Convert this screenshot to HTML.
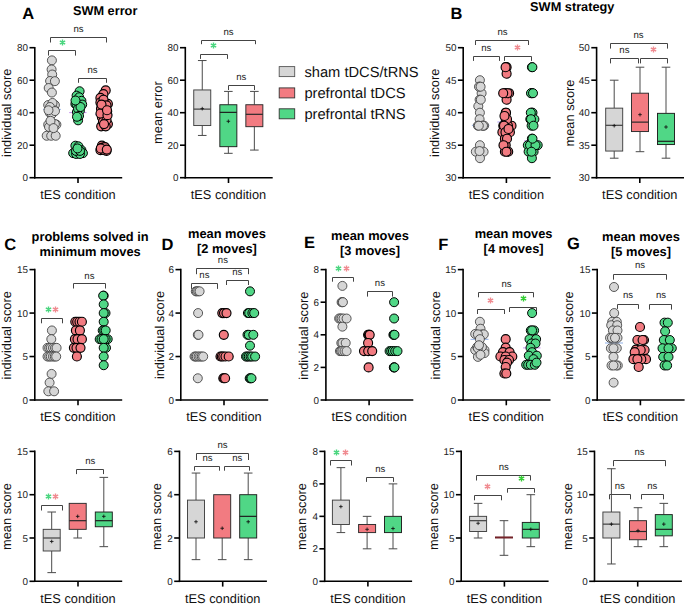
<!DOCTYPE html>
<html><head><meta charset="utf-8"><style>
html,body{margin:0;padding:0;background:#fff;}
body{width:685px;height:604px;overflow:hidden;}
svg{display:block;font-family:"Liberation Sans",sans-serif;text-rendering:geometricPrecision;}
</style></head><body>
<svg width="685" height="604" viewBox="0 0 685 604">
<rect width="685" height="604" fill="#fff"/>
<line x1="34.80" y1="46.90" x2="34.80" y2="178.50" stroke="#000" stroke-width="1.6"/>
<line x1="34.00" y1="177.70" x2="122.20" y2="177.70" stroke="#000" stroke-width="1.6"/>
<line x1="29.50" y1="177.70" x2="34.80" y2="177.70" stroke="#000" stroke-width="1.6"/>
<text x="28.00" y="181.20" font-size="9.9" text-anchor="end" font-weight="normal" fill="#222" >0</text>
<line x1="29.50" y1="145.20" x2="34.80" y2="145.20" stroke="#000" stroke-width="1.6"/>
<text x="28.00" y="148.70" font-size="9.9" text-anchor="end" font-weight="normal" fill="#222" >20</text>
<line x1="29.50" y1="112.70" x2="34.80" y2="112.70" stroke="#000" stroke-width="1.6"/>
<text x="28.00" y="116.20" font-size="9.9" text-anchor="end" font-weight="normal" fill="#222" >40</text>
<line x1="29.50" y1="80.20" x2="34.80" y2="80.20" stroke="#000" stroke-width="1.6"/>
<text x="28.00" y="83.70" font-size="9.9" text-anchor="end" font-weight="normal" fill="#222" >60</text>
<line x1="29.50" y1="47.70" x2="34.80" y2="47.70" stroke="#000" stroke-width="1.6"/>
<text x="28.00" y="51.20" font-size="9.9" text-anchor="end" font-weight="normal" fill="#222" >80</text>
<line x1="78.00" y1="177.70" x2="78.00" y2="183.00" stroke="#000" stroke-width="1.6"/>
<text x="78.00" y="199.10" font-size="12.8" text-anchor="middle" font-weight="normal" fill="#111" >tES condition</text>
<text x="10.60" y="112.80" font-size="12.8" text-anchor="middle" fill="#111" transform="rotate(-90 10.60 112.80)">individual score</text>
<line x1="185.30" y1="46.90" x2="185.30" y2="178.50" stroke="#000" stroke-width="1.6"/>
<line x1="184.50" y1="177.70" x2="272.70" y2="177.70" stroke="#000" stroke-width="1.6"/>
<line x1="180.00" y1="177.70" x2="185.30" y2="177.70" stroke="#000" stroke-width="1.6"/>
<text x="178.50" y="181.20" font-size="9.9" text-anchor="end" font-weight="normal" fill="#222" >0</text>
<line x1="180.00" y1="145.20" x2="185.30" y2="145.20" stroke="#000" stroke-width="1.6"/>
<text x="178.50" y="148.70" font-size="9.9" text-anchor="end" font-weight="normal" fill="#222" >20</text>
<line x1="180.00" y1="112.70" x2="185.30" y2="112.70" stroke="#000" stroke-width="1.6"/>
<text x="178.50" y="116.20" font-size="9.9" text-anchor="end" font-weight="normal" fill="#222" >40</text>
<line x1="180.00" y1="80.20" x2="185.30" y2="80.20" stroke="#000" stroke-width="1.6"/>
<text x="178.50" y="83.70" font-size="9.9" text-anchor="end" font-weight="normal" fill="#222" >60</text>
<line x1="180.00" y1="47.70" x2="185.30" y2="47.70" stroke="#000" stroke-width="1.6"/>
<text x="178.50" y="51.20" font-size="9.9" text-anchor="end" font-weight="normal" fill="#222" >80</text>
<line x1="228.50" y1="177.70" x2="228.50" y2="183.00" stroke="#000" stroke-width="1.6"/>
<text x="228.50" y="199.10" font-size="12.8" text-anchor="middle" font-weight="normal" fill="#111" >tES condition</text>
<text x="161.80" y="112.60" font-size="12.8" text-anchor="middle" fill="#111" transform="rotate(-90 161.80 112.60)">mean error</text>
<line x1="463.20" y1="46.90" x2="463.20" y2="178.50" stroke="#000" stroke-width="1.6"/>
<line x1="462.40" y1="177.70" x2="550.60" y2="177.70" stroke="#000" stroke-width="1.6"/>
<line x1="457.90" y1="177.70" x2="463.20" y2="177.70" stroke="#000" stroke-width="1.6"/>
<text x="456.40" y="181.20" font-size="9.9" text-anchor="end" font-weight="normal" fill="#222" >30</text>
<line x1="457.90" y1="145.20" x2="463.20" y2="145.20" stroke="#000" stroke-width="1.6"/>
<text x="456.40" y="148.70" font-size="9.9" text-anchor="end" font-weight="normal" fill="#222" >35</text>
<line x1="457.90" y1="112.70" x2="463.20" y2="112.70" stroke="#000" stroke-width="1.6"/>
<text x="456.40" y="116.20" font-size="9.9" text-anchor="end" font-weight="normal" fill="#222" >40</text>
<line x1="457.90" y1="80.20" x2="463.20" y2="80.20" stroke="#000" stroke-width="1.6"/>
<text x="456.40" y="83.70" font-size="9.9" text-anchor="end" font-weight="normal" fill="#222" >45</text>
<line x1="457.90" y1="47.70" x2="463.20" y2="47.70" stroke="#000" stroke-width="1.6"/>
<text x="456.40" y="51.20" font-size="9.9" text-anchor="end" font-weight="normal" fill="#222" >50</text>
<line x1="506.40" y1="177.70" x2="506.40" y2="183.00" stroke="#000" stroke-width="1.6"/>
<text x="506.40" y="199.10" font-size="12.8" text-anchor="middle" font-weight="normal" fill="#111" >tES condition</text>
<text x="439.00" y="112.80" font-size="12.8" text-anchor="middle" fill="#111" transform="rotate(-90 439.00 112.80)">individual score</text>
<line x1="596.60" y1="46.90" x2="596.60" y2="178.50" stroke="#000" stroke-width="1.6"/>
<line x1="595.80" y1="177.70" x2="684.00" y2="177.70" stroke="#000" stroke-width="1.6"/>
<line x1="591.30" y1="177.70" x2="596.60" y2="177.70" stroke="#000" stroke-width="1.6"/>
<text x="589.80" y="181.20" font-size="9.9" text-anchor="end" font-weight="normal" fill="#222" >30</text>
<line x1="591.30" y1="145.20" x2="596.60" y2="145.20" stroke="#000" stroke-width="1.6"/>
<text x="589.80" y="148.70" font-size="9.9" text-anchor="end" font-weight="normal" fill="#222" >35</text>
<line x1="591.30" y1="112.70" x2="596.60" y2="112.70" stroke="#000" stroke-width="1.6"/>
<text x="589.80" y="116.20" font-size="9.9" text-anchor="end" font-weight="normal" fill="#222" >40</text>
<line x1="591.30" y1="80.20" x2="596.60" y2="80.20" stroke="#000" stroke-width="1.6"/>
<text x="589.80" y="83.70" font-size="9.9" text-anchor="end" font-weight="normal" fill="#222" >45</text>
<line x1="591.30" y1="47.70" x2="596.60" y2="47.70" stroke="#000" stroke-width="1.6"/>
<text x="589.80" y="51.20" font-size="9.9" text-anchor="end" font-weight="normal" fill="#222" >50</text>
<line x1="639.80" y1="177.70" x2="639.80" y2="183.00" stroke="#000" stroke-width="1.6"/>
<text x="639.80" y="199.10" font-size="12.8" text-anchor="middle" font-weight="normal" fill="#111" >tES condition</text>
<text x="574.20" y="113.00" font-size="12.8" text-anchor="middle" fill="#111" transform="rotate(-90 574.20 113.00)">mean score</text>
<line x1="34.80" y1="268.80" x2="34.80" y2="400.80" stroke="#000" stroke-width="1.6"/>
<line x1="34.00" y1="400.00" x2="122.20" y2="400.00" stroke="#000" stroke-width="1.6"/>
<line x1="29.50" y1="400.00" x2="34.80" y2="400.00" stroke="#000" stroke-width="1.6"/>
<text x="28.00" y="403.50" font-size="9.9" text-anchor="end" font-weight="normal" fill="#222" >0</text>
<line x1="29.50" y1="356.53" x2="34.80" y2="356.53" stroke="#000" stroke-width="1.6"/>
<text x="28.00" y="360.03" font-size="9.9" text-anchor="end" font-weight="normal" fill="#222" >5</text>
<line x1="29.50" y1="313.07" x2="34.80" y2="313.07" stroke="#000" stroke-width="1.6"/>
<text x="28.00" y="316.57" font-size="9.9" text-anchor="end" font-weight="normal" fill="#222" >10</text>
<line x1="29.50" y1="269.60" x2="34.80" y2="269.60" stroke="#000" stroke-width="1.6"/>
<text x="28.00" y="273.10" font-size="9.9" text-anchor="end" font-weight="normal" fill="#222" >15</text>
<line x1="78.00" y1="400.00" x2="78.00" y2="405.30" stroke="#000" stroke-width="1.6"/>
<text x="78.00" y="421.20" font-size="12.8" text-anchor="middle" font-weight="normal" fill="#111" >tES condition</text>
<text x="11.30" y="335.30" font-size="12.8" text-anchor="middle" fill="#111" transform="rotate(-90 11.30 335.30)">individual score</text>
<line x1="180.80" y1="268.80" x2="180.80" y2="400.80" stroke="#000" stroke-width="1.6"/>
<line x1="180.00" y1="400.00" x2="268.20" y2="400.00" stroke="#000" stroke-width="1.6"/>
<line x1="175.50" y1="400.00" x2="180.80" y2="400.00" stroke="#000" stroke-width="1.6"/>
<text x="174.00" y="403.50" font-size="9.9" text-anchor="end" font-weight="normal" fill="#222" >0</text>
<line x1="175.50" y1="356.53" x2="180.80" y2="356.53" stroke="#000" stroke-width="1.6"/>
<text x="174.00" y="360.03" font-size="9.9" text-anchor="end" font-weight="normal" fill="#222" >2</text>
<line x1="175.50" y1="313.07" x2="180.80" y2="313.07" stroke="#000" stroke-width="1.6"/>
<text x="174.00" y="316.57" font-size="9.9" text-anchor="end" font-weight="normal" fill="#222" >4</text>
<line x1="175.50" y1="269.60" x2="180.80" y2="269.60" stroke="#000" stroke-width="1.6"/>
<text x="174.00" y="273.10" font-size="9.9" text-anchor="end" font-weight="normal" fill="#222" >6</text>
<line x1="224.00" y1="400.00" x2="224.00" y2="405.30" stroke="#000" stroke-width="1.6"/>
<text x="224.00" y="421.20" font-size="12.8" text-anchor="middle" font-weight="normal" fill="#111" >tES condition</text>
<text x="163.80" y="335.00" font-size="12.8" text-anchor="middle" fill="#111" transform="rotate(-90 163.80 335.00)">individual score</text>
<line x1="325.90" y1="268.80" x2="325.90" y2="400.80" stroke="#000" stroke-width="1.6"/>
<line x1="325.10" y1="400.00" x2="413.30" y2="400.00" stroke="#000" stroke-width="1.6"/>
<line x1="320.60" y1="400.00" x2="325.90" y2="400.00" stroke="#000" stroke-width="1.6"/>
<text x="319.10" y="403.50" font-size="9.9" text-anchor="end" font-weight="normal" fill="#222" >0</text>
<line x1="320.60" y1="367.40" x2="325.90" y2="367.40" stroke="#000" stroke-width="1.6"/>
<text x="319.10" y="370.90" font-size="9.9" text-anchor="end" font-weight="normal" fill="#222" >2</text>
<line x1="320.60" y1="334.80" x2="325.90" y2="334.80" stroke="#000" stroke-width="1.6"/>
<text x="319.10" y="338.30" font-size="9.9" text-anchor="end" font-weight="normal" fill="#222" >4</text>
<line x1="320.60" y1="302.20" x2="325.90" y2="302.20" stroke="#000" stroke-width="1.6"/>
<text x="319.10" y="305.70" font-size="9.9" text-anchor="end" font-weight="normal" fill="#222" >6</text>
<line x1="320.60" y1="269.60" x2="325.90" y2="269.60" stroke="#000" stroke-width="1.6"/>
<text x="319.10" y="273.10" font-size="9.9" text-anchor="end" font-weight="normal" fill="#222" >8</text>
<line x1="369.10" y1="400.00" x2="369.10" y2="405.30" stroke="#000" stroke-width="1.6"/>
<text x="369.10" y="421.20" font-size="12.8" text-anchor="middle" font-weight="normal" fill="#111" >tES condition</text>
<text x="307.60" y="335.60" font-size="12.8" text-anchor="middle" fill="#111" transform="rotate(-90 307.60 335.60)">individual score</text>
<line x1="463.10" y1="268.80" x2="463.10" y2="400.80" stroke="#000" stroke-width="1.6"/>
<line x1="462.30" y1="400.00" x2="550.50" y2="400.00" stroke="#000" stroke-width="1.6"/>
<line x1="457.80" y1="400.00" x2="463.10" y2="400.00" stroke="#000" stroke-width="1.6"/>
<text x="456.30" y="403.50" font-size="9.9" text-anchor="end" font-weight="normal" fill="#222" >0</text>
<line x1="457.80" y1="356.53" x2="463.10" y2="356.53" stroke="#000" stroke-width="1.6"/>
<text x="456.30" y="360.03" font-size="9.9" text-anchor="end" font-weight="normal" fill="#222" >5</text>
<line x1="457.80" y1="313.07" x2="463.10" y2="313.07" stroke="#000" stroke-width="1.6"/>
<text x="456.30" y="316.57" font-size="9.9" text-anchor="end" font-weight="normal" fill="#222" >10</text>
<line x1="457.80" y1="269.60" x2="463.10" y2="269.60" stroke="#000" stroke-width="1.6"/>
<text x="456.30" y="273.10" font-size="9.9" text-anchor="end" font-weight="normal" fill="#222" >15</text>
<line x1="506.30" y1="400.00" x2="506.30" y2="405.30" stroke="#000" stroke-width="1.6"/>
<text x="506.30" y="421.20" font-size="12.8" text-anchor="middle" font-weight="normal" fill="#111" >tES condition</text>
<text x="440.10" y="335.30" font-size="12.8" text-anchor="middle" fill="#111" transform="rotate(-90 440.10 335.30)">individual score</text>
<line x1="597.20" y1="268.80" x2="597.20" y2="400.80" stroke="#000" stroke-width="1.6"/>
<line x1="596.40" y1="400.00" x2="684.60" y2="400.00" stroke="#000" stroke-width="1.6"/>
<line x1="591.90" y1="400.00" x2="597.20" y2="400.00" stroke="#000" stroke-width="1.6"/>
<text x="590.40" y="403.50" font-size="9.9" text-anchor="end" font-weight="normal" fill="#222" >0</text>
<line x1="591.90" y1="356.53" x2="597.20" y2="356.53" stroke="#000" stroke-width="1.6"/>
<text x="590.40" y="360.03" font-size="9.9" text-anchor="end" font-weight="normal" fill="#222" >5</text>
<line x1="591.90" y1="313.07" x2="597.20" y2="313.07" stroke="#000" stroke-width="1.6"/>
<text x="590.40" y="316.57" font-size="9.9" text-anchor="end" font-weight="normal" fill="#222" >10</text>
<line x1="591.90" y1="269.60" x2="597.20" y2="269.60" stroke="#000" stroke-width="1.6"/>
<text x="590.40" y="273.10" font-size="9.9" text-anchor="end" font-weight="normal" fill="#222" >15</text>
<line x1="640.40" y1="400.00" x2="640.40" y2="405.30" stroke="#000" stroke-width="1.6"/>
<text x="640.40" y="421.20" font-size="12.8" text-anchor="middle" font-weight="normal" fill="#111" >tES condition</text>
<text x="573.00" y="335.50" font-size="12.8" text-anchor="middle" fill="#111" transform="rotate(-90 573.00 335.50)">individual score</text>
<line x1="34.80" y1="450.60" x2="34.80" y2="582.10" stroke="#000" stroke-width="1.6"/>
<line x1="34.00" y1="581.30" x2="122.20" y2="581.30" stroke="#000" stroke-width="1.6"/>
<line x1="29.50" y1="581.30" x2="34.80" y2="581.30" stroke="#000" stroke-width="1.6"/>
<text x="28.00" y="584.80" font-size="9.9" text-anchor="end" font-weight="normal" fill="#222" >0</text>
<line x1="29.50" y1="538.00" x2="34.80" y2="538.00" stroke="#000" stroke-width="1.6"/>
<text x="28.00" y="541.50" font-size="9.9" text-anchor="end" font-weight="normal" fill="#222" >5</text>
<line x1="29.50" y1="494.70" x2="34.80" y2="494.70" stroke="#000" stroke-width="1.6"/>
<text x="28.00" y="498.20" font-size="9.9" text-anchor="end" font-weight="normal" fill="#222" >10</text>
<line x1="29.50" y1="451.40" x2="34.80" y2="451.40" stroke="#000" stroke-width="1.6"/>
<text x="28.00" y="454.90" font-size="9.9" text-anchor="end" font-weight="normal" fill="#222" >15</text>
<line x1="78.00" y1="581.30" x2="78.00" y2="586.60" stroke="#000" stroke-width="1.6"/>
<text x="78.00" y="602.80" font-size="12.8" text-anchor="middle" font-weight="normal" fill="#111" >tES condition</text>
<text x="11.30" y="516.50" font-size="12.8" text-anchor="middle" fill="#111" transform="rotate(-90 11.30 516.50)">mean score</text>
<line x1="179.50" y1="450.60" x2="179.50" y2="582.10" stroke="#000" stroke-width="1.6"/>
<line x1="178.70" y1="581.30" x2="266.90" y2="581.30" stroke="#000" stroke-width="1.6"/>
<line x1="174.20" y1="581.30" x2="179.50" y2="581.30" stroke="#000" stroke-width="1.6"/>
<text x="172.70" y="584.80" font-size="9.9" text-anchor="end" font-weight="normal" fill="#222" >0</text>
<line x1="174.20" y1="538.00" x2="179.50" y2="538.00" stroke="#000" stroke-width="1.6"/>
<text x="172.70" y="541.50" font-size="9.9" text-anchor="end" font-weight="normal" fill="#222" >2</text>
<line x1="174.20" y1="494.70" x2="179.50" y2="494.70" stroke="#000" stroke-width="1.6"/>
<text x="172.70" y="498.20" font-size="9.9" text-anchor="end" font-weight="normal" fill="#222" >4</text>
<line x1="174.20" y1="451.40" x2="179.50" y2="451.40" stroke="#000" stroke-width="1.6"/>
<text x="172.70" y="454.90" font-size="9.9" text-anchor="end" font-weight="normal" fill="#222" >6</text>
<line x1="222.70" y1="581.30" x2="222.70" y2="586.60" stroke="#000" stroke-width="1.6"/>
<text x="222.70" y="602.80" font-size="12.8" text-anchor="middle" font-weight="normal" fill="#111" >tES condition</text>
<text x="161.20" y="516.50" font-size="12.8" text-anchor="middle" fill="#111" transform="rotate(-90 161.20 516.50)">mean score</text>
<line x1="324.70" y1="450.60" x2="324.70" y2="582.10" stroke="#000" stroke-width="1.6"/>
<line x1="323.90" y1="581.30" x2="412.10" y2="581.30" stroke="#000" stroke-width="1.6"/>
<line x1="319.40" y1="581.30" x2="324.70" y2="581.30" stroke="#000" stroke-width="1.6"/>
<text x="317.90" y="584.80" font-size="9.9" text-anchor="end" font-weight="normal" fill="#222" >0</text>
<line x1="319.40" y1="548.82" x2="324.70" y2="548.82" stroke="#000" stroke-width="1.6"/>
<text x="317.90" y="552.32" font-size="9.9" text-anchor="end" font-weight="normal" fill="#222" >2</text>
<line x1="319.40" y1="516.35" x2="324.70" y2="516.35" stroke="#000" stroke-width="1.6"/>
<text x="317.90" y="519.85" font-size="9.9" text-anchor="end" font-weight="normal" fill="#222" >4</text>
<line x1="319.40" y1="483.88" x2="324.70" y2="483.88" stroke="#000" stroke-width="1.6"/>
<text x="317.90" y="487.38" font-size="9.9" text-anchor="end" font-weight="normal" fill="#222" >6</text>
<line x1="319.40" y1="451.40" x2="324.70" y2="451.40" stroke="#000" stroke-width="1.6"/>
<text x="317.90" y="454.90" font-size="9.9" text-anchor="end" font-weight="normal" fill="#222" >8</text>
<line x1="367.90" y1="581.30" x2="367.90" y2="586.60" stroke="#000" stroke-width="1.6"/>
<text x="367.90" y="602.80" font-size="12.8" text-anchor="middle" font-weight="normal" fill="#111" >tES condition</text>
<text x="306.20" y="516.50" font-size="12.8" text-anchor="middle" fill="#111" transform="rotate(-90 306.20 516.50)">mean score</text>
<line x1="461.20" y1="450.60" x2="461.20" y2="582.10" stroke="#000" stroke-width="1.6"/>
<line x1="460.40" y1="581.30" x2="548.60" y2="581.30" stroke="#000" stroke-width="1.6"/>
<line x1="455.90" y1="581.30" x2="461.20" y2="581.30" stroke="#000" stroke-width="1.6"/>
<text x="454.40" y="584.80" font-size="9.9" text-anchor="end" font-weight="normal" fill="#222" >0</text>
<line x1="455.90" y1="538.00" x2="461.20" y2="538.00" stroke="#000" stroke-width="1.6"/>
<text x="454.40" y="541.50" font-size="9.9" text-anchor="end" font-weight="normal" fill="#222" >5</text>
<line x1="455.90" y1="494.70" x2="461.20" y2="494.70" stroke="#000" stroke-width="1.6"/>
<text x="454.40" y="498.20" font-size="9.9" text-anchor="end" font-weight="normal" fill="#222" >10</text>
<line x1="455.90" y1="451.40" x2="461.20" y2="451.40" stroke="#000" stroke-width="1.6"/>
<text x="454.40" y="454.90" font-size="9.9" text-anchor="end" font-weight="normal" fill="#222" >15</text>
<line x1="504.40" y1="581.30" x2="504.40" y2="586.60" stroke="#000" stroke-width="1.6"/>
<text x="504.40" y="602.80" font-size="12.8" text-anchor="middle" font-weight="normal" fill="#111" >tES condition</text>
<text x="437.50" y="516.50" font-size="12.8" text-anchor="middle" fill="#111" transform="rotate(-90 437.50 516.50)">mean score</text>
<line x1="594.50" y1="450.60" x2="594.50" y2="582.10" stroke="#000" stroke-width="1.6"/>
<line x1="593.70" y1="581.30" x2="681.90" y2="581.30" stroke="#000" stroke-width="1.6"/>
<line x1="589.20" y1="581.30" x2="594.50" y2="581.30" stroke="#000" stroke-width="1.6"/>
<text x="587.70" y="584.80" font-size="9.9" text-anchor="end" font-weight="normal" fill="#222" >0</text>
<line x1="589.20" y1="538.00" x2="594.50" y2="538.00" stroke="#000" stroke-width="1.6"/>
<text x="587.70" y="541.50" font-size="9.9" text-anchor="end" font-weight="normal" fill="#222" >5</text>
<line x1="589.20" y1="494.70" x2="594.50" y2="494.70" stroke="#000" stroke-width="1.6"/>
<text x="587.70" y="498.20" font-size="9.9" text-anchor="end" font-weight="normal" fill="#222" >10</text>
<line x1="589.20" y1="451.40" x2="594.50" y2="451.40" stroke="#000" stroke-width="1.6"/>
<text x="587.70" y="454.90" font-size="9.9" text-anchor="end" font-weight="normal" fill="#222" >15</text>
<line x1="637.70" y1="581.30" x2="637.70" y2="586.60" stroke="#000" stroke-width="1.6"/>
<text x="637.70" y="602.80" font-size="12.8" text-anchor="middle" font-weight="normal" fill="#111" >tES condition</text>
<text x="572.00" y="516.50" font-size="12.8" text-anchor="middle" fill="#111" transform="rotate(-90 572.00 516.50)">mean score</text>
<text x="22.30" y="19.40" font-size="16.5" text-anchor="start" font-weight="bold" fill="#000" >A</text>
<text x="450.60" y="19.00" font-size="16.5" text-anchor="start" font-weight="bold" fill="#000" >B</text>
<text x="4.20" y="250.00" font-size="16.5" text-anchor="start" font-weight="bold" fill="#000" >C</text>
<text x="161.50" y="249.60" font-size="16.5" text-anchor="start" font-weight="bold" fill="#000" >D</text>
<text x="304.00" y="247.60" font-size="16.5" text-anchor="start" font-weight="bold" fill="#000" >E</text>
<text x="438.20" y="249.60" font-size="16.5" text-anchor="start" font-weight="bold" fill="#000" >F</text>
<text x="567.00" y="248.60" font-size="16.5" text-anchor="start" font-weight="bold" fill="#000" >G</text>
<text x="72.90" y="14.70" font-size="12.75" text-anchor="start" font-weight="bold" fill="#000" >SWM error</text>
<text x="530.10" y="10.80" font-size="12.75" text-anchor="start" font-weight="bold" fill="#000" >SWM strategy</text>
<text x="90.10" y="241.30" font-size="12.85" text-anchor="middle" font-weight="bold" fill="#000" >problems solved in</text>
<text x="90.10" y="255.60" font-size="12.85" text-anchor="middle" font-weight="bold" fill="#000" >minimum moves</text>
<text x="226.90" y="238.40" font-size="12.85" text-anchor="middle" font-weight="bold" fill="#000" >mean moves</text>
<text x="226.90" y="252.70" font-size="12.85" text-anchor="middle" font-weight="bold" fill="#000" >[2 moves]</text>
<text x="370.00" y="240.40" font-size="12.85" text-anchor="middle" font-weight="bold" fill="#000" >mean moves</text>
<text x="370.00" y="255.20" font-size="12.85" text-anchor="middle" font-weight="bold" fill="#000" >[3 moves]</text>
<text x="513.60" y="238.40" font-size="12.85" text-anchor="middle" font-weight="bold" fill="#000" >mean moves</text>
<text x="513.60" y="253.10" font-size="12.85" text-anchor="middle" font-weight="bold" fill="#000" >[4 moves]</text>
<text x="641.00" y="241.20" font-size="12.85" text-anchor="middle" font-weight="bold" fill="#000" >mean moves</text>
<text x="641.00" y="256.40" font-size="12.85" text-anchor="middle" font-weight="bold" fill="#000" >[5 moves]</text>
<rect x="279.2" y="66.60" width="15.5" height="10.0" fill="#d6d6d6" stroke="#555" stroke-width="0.9"/>
<text x="304.40" y="76.60" font-size="14.7" text-anchor="start" font-weight="normal" fill="#111" >sham tDCS/tRNS</text>
<rect x="279.2" y="87.90" width="15.5" height="10.0" fill="#f27b81" stroke="#333" stroke-width="0.9"/>
<text x="304.40" y="97.90" font-size="14.7" text-anchor="start" font-weight="normal" fill="#111" >prefrontal tDCS</text>
<rect x="279.2" y="108.80" width="15.5" height="10.0" fill="#50d786" stroke="#333" stroke-width="0.9"/>
<text x="304.40" y="118.80" font-size="14.7" text-anchor="start" font-weight="normal" fill="#111" >prefrontal tRNS</text>
<line x1="43.20" y1="109.40" x2="60.80" y2="109.40" stroke="#8fb0e8" stroke-width="1.0"/>
<line x1="69.20" y1="112.60" x2="86.50" y2="112.60" stroke="#c890f0" stroke-width="1.0"/>
<line x1="95.20" y1="114.60" x2="112.40" y2="114.60" stroke="#a99cf0" stroke-width="1.0"/>
<circle cx="51.90" cy="60.37" r="4.5" fill="#d6d6d6" stroke="#3c3c3c" stroke-width="0.85"/>
<circle cx="51.60" cy="69.47" r="4.5" fill="#d6d6d6" stroke="#3c3c3c" stroke-width="0.85"/>
<circle cx="52.20" cy="74.51" r="4.5" fill="#d6d6d6" stroke="#3c3c3c" stroke-width="0.85"/>
<circle cx="50.10" cy="81.01" r="4.5" fill="#d6d6d6" stroke="#3c3c3c" stroke-width="0.85"/>
<circle cx="54.90" cy="81.17" r="4.5" fill="#d6d6d6" stroke="#3c3c3c" stroke-width="0.85"/>
<circle cx="48.70" cy="88.00" r="4.5" fill="#d6d6d6" stroke="#3c3c3c" stroke-width="0.85"/>
<circle cx="51.90" cy="92.55" r="4.5" fill="#d6d6d6" stroke="#3c3c3c" stroke-width="0.85"/>
<circle cx="48.20" cy="105.06" r="4.5" fill="#d6d6d6" stroke="#3c3c3c" stroke-width="0.85"/>
<circle cx="54.90" cy="105.06" r="4.5" fill="#d6d6d6" stroke="#3c3c3c" stroke-width="0.85"/>
<circle cx="49.70" cy="112.70" r="4.5" fill="#d6d6d6" stroke="#3c3c3c" stroke-width="0.85"/>
<circle cx="51.90" cy="114.00" r="4.5" fill="#d6d6d6" stroke="#3c3c3c" stroke-width="0.85"/>
<circle cx="52.70" cy="108.15" r="4.5" fill="#d6d6d6" stroke="#3c3c3c" stroke-width="0.85"/>
<circle cx="48.20" cy="124.56" r="4.5" fill="#d6d6d6" stroke="#3c3c3c" stroke-width="0.85"/>
<circle cx="56.40" cy="124.56" r="4.5" fill="#d6d6d6" stroke="#3c3c3c" stroke-width="0.85"/>
<circle cx="54.90" cy="124.07" r="4.5" fill="#d6d6d6" stroke="#3c3c3c" stroke-width="0.85"/>
<circle cx="49.00" cy="127.00" r="4.5" fill="#d6d6d6" stroke="#3c3c3c" stroke-width="0.85"/>
<circle cx="46.70" cy="135.77" r="4.5" fill="#d6d6d6" stroke="#3c3c3c" stroke-width="0.85"/>
<circle cx="51.20" cy="135.77" r="4.5" fill="#d6d6d6" stroke="#3c3c3c" stroke-width="0.85"/>
<circle cx="55.70" cy="135.77" r="4.5" fill="#d6d6d6" stroke="#3c3c3c" stroke-width="0.85"/>
<circle cx="52.50" cy="102.95" r="4.5" fill="#d6d6d6" stroke="#3c3c3c" stroke-width="0.85"/>
<circle cx="50.00" cy="107.01" r="4.5" fill="#d6d6d6" stroke="#3c3c3c" stroke-width="0.85"/>
<circle cx="55.00" cy="111.07" r="4.5" fill="#d6d6d6" stroke="#3c3c3c" stroke-width="0.85"/>
<circle cx="48.50" cy="110.26" r="4.5" fill="#d6d6d6" stroke="#3c3c3c" stroke-width="0.85"/>
<circle cx="50.50" cy="120.82" r="4.5" fill="#d6d6d6" stroke="#3c3c3c" stroke-width="0.85"/>
<circle cx="53.50" cy="128.14" r="4.5" fill="#d6d6d6" stroke="#3c3c3c" stroke-width="0.85"/>
<circle cx="79.60" cy="91.25" r="4.5" fill="#50d786" stroke="#000" stroke-width="1.0"/>
<circle cx="76.60" cy="95.64" r="4.5" fill="#50d786" stroke="#000" stroke-width="1.0"/>
<circle cx="79.20" cy="97.26" r="4.5" fill="#50d786" stroke="#000" stroke-width="1.0"/>
<circle cx="81.40" cy="100.84" r="4.5" fill="#50d786" stroke="#000" stroke-width="1.0"/>
<circle cx="75.40" cy="103.92" r="4.5" fill="#50d786" stroke="#000" stroke-width="1.0"/>
<circle cx="82.20" cy="104.57" r="4.5" fill="#50d786" stroke="#000" stroke-width="1.0"/>
<circle cx="79.90" cy="110.59" r="4.5" fill="#50d786" stroke="#000" stroke-width="1.0"/>
<circle cx="76.90" cy="112.05" r="4.5" fill="#50d786" stroke="#000" stroke-width="1.0"/>
<circle cx="76.60" cy="104.57" r="4.5" fill="#50d786" stroke="#000" stroke-width="1.0"/>
<circle cx="78.10" cy="120.34" r="4.5" fill="#50d786" stroke="#000" stroke-width="1.0"/>
<circle cx="75.40" cy="145.69" r="4.5" fill="#50d786" stroke="#000" stroke-width="1.0"/>
<circle cx="78.40" cy="146.34" r="4.5" fill="#50d786" stroke="#000" stroke-width="1.0"/>
<circle cx="81.40" cy="150.07" r="4.5" fill="#50d786" stroke="#000" stroke-width="1.0"/>
<circle cx="73.20" cy="153.16" r="4.5" fill="#50d786" stroke="#000" stroke-width="1.0"/>
<circle cx="82.90" cy="153.16" r="4.5" fill="#50d786" stroke="#000" stroke-width="1.0"/>
<circle cx="76.20" cy="153.97" r="4.5" fill="#50d786" stroke="#000" stroke-width="1.0"/>
<circle cx="79.90" cy="153.97" r="4.5" fill="#50d786" stroke="#000" stroke-width="1.0"/>
<circle cx="78.00" cy="108.64" r="4.5" fill="#50d786" stroke="#000" stroke-width="1.0"/>
<circle cx="80.50" cy="107.01" r="4.5" fill="#50d786" stroke="#000" stroke-width="1.0"/>
<circle cx="75.50" cy="100.51" r="4.5" fill="#50d786" stroke="#000" stroke-width="1.0"/>
<circle cx="79.00" cy="115.95" r="4.5" fill="#50d786" stroke="#000" stroke-width="1.0"/>
<circle cx="77.00" cy="116.76" r="4.5" fill="#50d786" stroke="#000" stroke-width="1.0"/>
<circle cx="76.00" cy="150.89" r="4.5" fill="#50d786" stroke="#000" stroke-width="1.0"/>
<circle cx="80.00" cy="150.89" r="4.5" fill="#50d786" stroke="#000" stroke-width="1.0"/>
<circle cx="77.50" cy="148.45" r="4.5" fill="#50d786" stroke="#000" stroke-width="1.0"/>
<circle cx="105.70" cy="90.44" r="4.5" fill="#f27b81" stroke="#000" stroke-width="1.15"/>
<circle cx="103.40" cy="94.17" r="4.5" fill="#f27b81" stroke="#000" stroke-width="1.15"/>
<circle cx="100.40" cy="97.91" r="4.5" fill="#f27b81" stroke="#000" stroke-width="1.15"/>
<circle cx="100.40" cy="102.46" r="4.5" fill="#f27b81" stroke="#000" stroke-width="1.15"/>
<circle cx="107.90" cy="103.92" r="4.5" fill="#f27b81" stroke="#000" stroke-width="1.15"/>
<circle cx="102.70" cy="103.92" r="4.5" fill="#f27b81" stroke="#000" stroke-width="1.15"/>
<circle cx="101.60" cy="110.59" r="4.5" fill="#f27b81" stroke="#000" stroke-width="1.15"/>
<circle cx="107.20" cy="111.24" r="4.5" fill="#f27b81" stroke="#000" stroke-width="1.15"/>
<circle cx="104.20" cy="115.79" r="4.5" fill="#f27b81" stroke="#000" stroke-width="1.15"/>
<circle cx="101.90" cy="117.25" r="4.5" fill="#f27b81" stroke="#000" stroke-width="1.15"/>
<circle cx="107.90" cy="124.07" r="4.5" fill="#f27b81" stroke="#000" stroke-width="1.15"/>
<circle cx="101.20" cy="126.35" r="4.5" fill="#f27b81" stroke="#000" stroke-width="1.15"/>
<circle cx="105.70" cy="126.35" r="4.5" fill="#f27b81" stroke="#000" stroke-width="1.15"/>
<circle cx="101.90" cy="145.69" r="4.5" fill="#f27b81" stroke="#000" stroke-width="1.15"/>
<circle cx="100.40" cy="150.07" r="4.5" fill="#f27b81" stroke="#000" stroke-width="1.15"/>
<circle cx="104.20" cy="150.07" r="4.5" fill="#f27b81" stroke="#000" stroke-width="1.15"/>
<circle cx="105.70" cy="148.77" r="4.5" fill="#f27b81" stroke="#000" stroke-width="1.15"/>
<circle cx="103.00" cy="106.20" r="4.5" fill="#f27b81" stroke="#000" stroke-width="1.15"/>
<circle cx="106.00" cy="107.82" r="4.5" fill="#f27b81" stroke="#000" stroke-width="1.15"/>
<circle cx="101.00" cy="108.64" r="4.5" fill="#f27b81" stroke="#000" stroke-width="1.15"/>
<circle cx="104.50" cy="119.20" r="4.5" fill="#f27b81" stroke="#000" stroke-width="1.15"/>
<circle cx="103.00" cy="121.64" r="4.5" fill="#f27b81" stroke="#000" stroke-width="1.15"/>
<circle cx="106.50" cy="120.01" r="4.5" fill="#f27b81" stroke="#000" stroke-width="1.15"/>
<circle cx="100.50" cy="113.51" r="4.5" fill="#f27b81" stroke="#000" stroke-width="1.15"/>
<circle cx="107.50" cy="115.14" r="4.5" fill="#f27b81" stroke="#000" stroke-width="1.15"/>
<circle cx="103.50" cy="99.70" r="4.5" fill="#f27b81" stroke="#000" stroke-width="1.15"/>
<circle cx="104.00" cy="124.07" r="4.5" fill="#f27b81" stroke="#000" stroke-width="1.15"/>
<circle cx="102.50" cy="147.64" r="4.5" fill="#f27b81" stroke="#000" stroke-width="1.15"/>
<circle cx="106.50" cy="150.89" r="4.5" fill="#f27b81" stroke="#000" stroke-width="1.15"/>
<circle cx="101.50" cy="148.12" r="4.5" fill="#f27b81" stroke="#000" stroke-width="1.15"/>
<circle cx="103.50" cy="149.75" r="4.5" fill="#f27b81" stroke="#000" stroke-width="1.15"/>
<circle cx="105.00" cy="147.15" r="4.5" fill="#f27b81" stroke="#000" stroke-width="1.15"/>
<circle cx="100.80" cy="148.45" r="4.5" fill="#f27b81" stroke="#000" stroke-width="1.15"/>
<circle cx="106.80" cy="149.59" r="4.5" fill="#f27b81" stroke="#000" stroke-width="1.15"/>
<circle cx="106.50" cy="105.39" r="4.5" fill="#f27b81" stroke="#000" stroke-width="1.15"/>
<circle cx="101.50" cy="104.57" r="4.5" fill="#f27b81" stroke="#000" stroke-width="1.15"/>
<circle cx="107.00" cy="110.26" r="4.5" fill="#f27b81" stroke="#000" stroke-width="1.15"/>
<path d="M50.50,42.50 V37.50 H106.50 V42.50" fill="none" stroke="#444" stroke-width="1.0"/>
<text x="78.60" y="32.30" font-size="9.6" text-anchor="middle" font-weight="normal" fill="#222" >ns</text>
<path d="M62.50,39.40L62.50,45.60M59.82,40.95L65.18,44.05M59.82,44.05L65.18,40.95" stroke="#4ad67f" stroke-width="1.4" fill="none"/>
<path d="M48.50,55.60 V50.50 H75.50 V55.60" fill="none" stroke="#444" stroke-width="1.0"/>
<path d="M78.50,82.80 V78.50 H106.50 V82.80" fill="none" stroke="#444" stroke-width="1.0"/>
<text x="92.60" y="72.50" font-size="9.6" text-anchor="middle" font-weight="normal" fill="#222" >ns</text>
<path d="M201.50,44.20 V40.50 H255.50 V44.20" fill="none" stroke="#444" stroke-width="1.0"/>
<text x="228.60" y="34.70" font-size="9.6" text-anchor="middle" font-weight="normal" fill="#222" >ns</text>
<path d="M213.50,42.40L213.50,48.60M210.82,43.95L216.18,47.05M210.82,47.05L216.18,43.95" stroke="#4ad67f" stroke-width="1.4" fill="none"/>
<path d="M200.50,58.90 V54.50 H227.50 V58.90" fill="none" stroke="#444" stroke-width="1.0"/>
<path d="M228.50,90.00 V85.50 H254.50 V90.00" fill="none" stroke="#444" stroke-width="1.0"/>
<text x="241.30" y="80.10" font-size="9.6" text-anchor="middle" font-weight="normal" fill="#222" >ns</text>
<line x1="202.25" y1="60.54" x2="202.25" y2="89.95" stroke="#4a4a4a" stroke-width="1.0"/>
<line x1="197.95" y1="60.54" x2="206.55" y2="60.54" stroke="#4a4a4a" stroke-width="1.0"/>
<line x1="202.25" y1="125.54" x2="202.25" y2="135.45" stroke="#4a4a4a" stroke-width="1.0"/>
<line x1="197.95" y1="135.45" x2="206.55" y2="135.45" stroke="#4a4a4a" stroke-width="1.0"/>
<rect x="193.75" y="89.95" width="17" height="35.59" fill="#d6d6d6" stroke="#404040" stroke-width="0.95"/>
<line x1="193.75" y1="109.12" x2="210.75" y2="109.12" stroke="#404040" stroke-width="1.2"/>
<line x1="200.45" y1="108.64" x2="204.05" y2="108.64" stroke="#111" stroke-width="0.85"/>
<line x1="202.25" y1="106.84" x2="202.25" y2="110.44" stroke="#111" stroke-width="0.85"/>
<line x1="228.35" y1="91.41" x2="228.35" y2="104.74" stroke="#4a4a4a" stroke-width="1.0"/>
<line x1="224.05" y1="91.41" x2="232.65" y2="91.41" stroke="#4a4a4a" stroke-width="1.0"/>
<line x1="228.35" y1="146.66" x2="228.35" y2="153.32" stroke="#4a4a4a" stroke-width="1.0"/>
<line x1="224.05" y1="153.32" x2="232.65" y2="153.32" stroke="#4a4a4a" stroke-width="1.0"/>
<rect x="219.85" y="104.74" width="17" height="41.93" fill="#50d786" stroke="#1e1e1e" stroke-width="0.95"/>
<line x1="219.85" y1="112.37" x2="236.85" y2="112.37" stroke="#1e1e1e" stroke-width="1.2"/>
<line x1="226.55" y1="121.31" x2="230.15" y2="121.31" stroke="#111" stroke-width="0.85"/>
<line x1="228.35" y1="119.51" x2="228.35" y2="123.11" stroke="#111" stroke-width="0.85"/>
<line x1="254.35" y1="91.41" x2="254.35" y2="104.74" stroke="#4a4a4a" stroke-width="1.0"/>
<line x1="250.05" y1="91.41" x2="258.65" y2="91.41" stroke="#4a4a4a" stroke-width="1.0"/>
<line x1="254.35" y1="126.67" x2="254.35" y2="150.07" stroke="#4a4a4a" stroke-width="1.0"/>
<line x1="250.05" y1="150.07" x2="258.65" y2="150.07" stroke="#4a4a4a" stroke-width="1.0"/>
<rect x="245.85" y="104.74" width="17" height="21.94" fill="#f27b81" stroke="#2a2a2a" stroke-width="0.95"/>
<line x1="245.85" y1="114.32" x2="262.85" y2="114.32" stroke="#2a2a2a" stroke-width="1.2"/>
<line x1="471.90" y1="125.30" x2="489.30" y2="125.30" stroke="#8fb0e8" stroke-width="1.0"/>
<line x1="497.40" y1="122.00" x2="513.80" y2="122.00" stroke="#a99cf0" stroke-width="1.0"/>
<line x1="524.00" y1="140.90" x2="540.40" y2="140.90" stroke="#c890f0" stroke-width="1.0"/>
<circle cx="479.90" cy="80.20" r="4.5" fill="#d6d6d6" stroke="#3c3c3c" stroke-width="0.85"/>
<circle cx="479.60" cy="86.70" r="4.5" fill="#d6d6d6" stroke="#3c3c3c" stroke-width="0.85"/>
<circle cx="481.60" cy="93.20" r="4.5" fill="#d6d6d6" stroke="#3c3c3c" stroke-width="0.85"/>
<circle cx="479.60" cy="99.70" r="4.5" fill="#d6d6d6" stroke="#3c3c3c" stroke-width="0.85"/>
<circle cx="478.30" cy="106.20" r="4.5" fill="#d6d6d6" stroke="#3c3c3c" stroke-width="0.85"/>
<circle cx="479.90" cy="112.70" r="4.5" fill="#d6d6d6" stroke="#3c3c3c" stroke-width="0.85"/>
<circle cx="479.60" cy="119.20" r="4.5" fill="#d6d6d6" stroke="#3c3c3c" stroke-width="0.85"/>
<circle cx="477.90" cy="125.70" r="4.5" fill="#d6d6d6" stroke="#3c3c3c" stroke-width="0.85"/>
<circle cx="484.10" cy="125.70" r="4.5" fill="#d6d6d6" stroke="#3c3c3c" stroke-width="0.85"/>
<circle cx="482.40" cy="125.70" r="4.5" fill="#d6d6d6" stroke="#3c3c3c" stroke-width="0.85"/>
<circle cx="479.90" cy="145.20" r="4.5" fill="#d6d6d6" stroke="#3c3c3c" stroke-width="0.85"/>
<circle cx="475.80" cy="151.70" r="4.5" fill="#d6d6d6" stroke="#3c3c3c" stroke-width="0.85"/>
<circle cx="483.60" cy="151.70" r="4.5" fill="#d6d6d6" stroke="#3c3c3c" stroke-width="0.85"/>
<circle cx="480.00" cy="158.20" r="4.5" fill="#d6d6d6" stroke="#3c3c3c" stroke-width="0.85"/>
<circle cx="479.00" cy="86.70" r="4.5" fill="#d6d6d6" stroke="#3c3c3c" stroke-width="0.85"/>
<circle cx="480.60" cy="86.70" r="4.5" fill="#d6d6d6" stroke="#3c3c3c" stroke-width="0.85"/>
<circle cx="483.00" cy="125.70" r="4.5" fill="#d6d6d6" stroke="#3c3c3c" stroke-width="0.85"/>
<circle cx="478.80" cy="125.70" r="4.5" fill="#d6d6d6" stroke="#3c3c3c" stroke-width="0.85"/>
<circle cx="479.50" cy="151.05" r="4.5" fill="#d6d6d6" stroke="#3c3c3c" stroke-width="0.85"/>
<circle cx="480.80" cy="99.70" r="4.5" fill="#d6d6d6" stroke="#3c3c3c" stroke-width="0.85"/>
<circle cx="506.60" cy="67.20" r="4.5" fill="#f27b81" stroke="#000" stroke-width="1.15"/>
<circle cx="506.60" cy="73.70" r="4.5" fill="#f27b81" stroke="#000" stroke-width="1.15"/>
<circle cx="504.60" cy="93.20" r="4.5" fill="#f27b81" stroke="#000" stroke-width="1.15"/>
<circle cx="509.10" cy="93.20" r="4.5" fill="#f27b81" stroke="#000" stroke-width="1.15"/>
<circle cx="506.60" cy="99.70" r="4.5" fill="#f27b81" stroke="#000" stroke-width="1.15"/>
<circle cx="505.70" cy="112.70" r="4.5" fill="#f27b81" stroke="#000" stroke-width="1.15"/>
<circle cx="505.70" cy="119.20" r="4.5" fill="#f27b81" stroke="#000" stroke-width="1.15"/>
<circle cx="503.30" cy="125.70" r="4.5" fill="#f27b81" stroke="#000" stroke-width="1.15"/>
<circle cx="511.50" cy="125.70" r="4.5" fill="#f27b81" stroke="#000" stroke-width="1.15"/>
<circle cx="507.90" cy="125.70" r="4.5" fill="#f27b81" stroke="#000" stroke-width="1.15"/>
<circle cx="502.40" cy="132.20" r="4.5" fill="#f27b81" stroke="#000" stroke-width="1.15"/>
<circle cx="509.90" cy="132.20" r="4.5" fill="#f27b81" stroke="#000" stroke-width="1.15"/>
<circle cx="504.90" cy="138.70" r="4.5" fill="#f27b81" stroke="#000" stroke-width="1.15"/>
<circle cx="505.70" cy="145.20" r="4.5" fill="#f27b81" stroke="#000" stroke-width="1.15"/>
<circle cx="504.90" cy="151.70" r="4.5" fill="#f27b81" stroke="#000" stroke-width="1.15"/>
<circle cx="508.20" cy="151.70" r="4.5" fill="#f27b81" stroke="#000" stroke-width="1.15"/>
<circle cx="505.50" cy="93.20" r="4.5" fill="#f27b81" stroke="#000" stroke-width="1.15"/>
<circle cx="507.50" cy="93.20" r="4.5" fill="#f27b81" stroke="#000" stroke-width="1.15"/>
<circle cx="503.20" cy="93.20" r="4.5" fill="#f27b81" stroke="#000" stroke-width="1.15"/>
<circle cx="506.00" cy="112.70" r="4.5" fill="#f27b81" stroke="#000" stroke-width="1.15"/>
<circle cx="507.00" cy="119.20" r="4.5" fill="#f27b81" stroke="#000" stroke-width="1.15"/>
<circle cx="504.00" cy="125.70" r="4.5" fill="#f27b81" stroke="#000" stroke-width="1.15"/>
<circle cx="505.50" cy="132.20" r="4.5" fill="#f27b81" stroke="#000" stroke-width="1.15"/>
<circle cx="507.00" cy="138.70" r="4.5" fill="#f27b81" stroke="#000" stroke-width="1.15"/>
<circle cx="503.50" cy="145.20" r="4.5" fill="#f27b81" stroke="#000" stroke-width="1.15"/>
<circle cx="506.50" cy="151.70" r="4.5" fill="#f27b81" stroke="#000" stroke-width="1.15"/>
<circle cx="505.60" cy="67.20" r="4.5" fill="#f27b81" stroke="#000" stroke-width="1.15"/>
<circle cx="504.50" cy="115.95" r="4.5" fill="#f27b81" stroke="#000" stroke-width="1.15"/>
<circle cx="508.50" cy="128.95" r="4.5" fill="#f27b81" stroke="#000" stroke-width="1.15"/>
<circle cx="531.90" cy="67.20" r="4.5" fill="#50d786" stroke="#000" stroke-width="1.0"/>
<circle cx="532.40" cy="67.20" r="4.5" fill="#50d786" stroke="#000" stroke-width="1.0"/>
<circle cx="531.60" cy="93.20" r="4.5" fill="#50d786" stroke="#000" stroke-width="1.0"/>
<circle cx="532.10" cy="93.20" r="4.5" fill="#50d786" stroke="#000" stroke-width="1.0"/>
<circle cx="531.90" cy="112.70" r="4.5" fill="#50d786" stroke="#000" stroke-width="1.0"/>
<circle cx="532.50" cy="112.70" r="4.5" fill="#50d786" stroke="#000" stroke-width="1.0"/>
<circle cx="530.30" cy="119.20" r="4.5" fill="#50d786" stroke="#000" stroke-width="1.0"/>
<circle cx="534.40" cy="119.20" r="4.5" fill="#50d786" stroke="#000" stroke-width="1.0"/>
<circle cx="531.60" cy="125.70" r="4.5" fill="#50d786" stroke="#000" stroke-width="1.0"/>
<circle cx="531.90" cy="138.70" r="4.5" fill="#50d786" stroke="#000" stroke-width="1.0"/>
<circle cx="527.80" cy="145.20" r="4.5" fill="#50d786" stroke="#000" stroke-width="1.0"/>
<circle cx="537.70" cy="145.20" r="4.5" fill="#50d786" stroke="#000" stroke-width="1.0"/>
<circle cx="533.60" cy="145.20" r="4.5" fill="#50d786" stroke="#000" stroke-width="1.0"/>
<circle cx="528.60" cy="151.70" r="4.5" fill="#50d786" stroke="#000" stroke-width="1.0"/>
<circle cx="533.60" cy="151.70" r="4.5" fill="#50d786" stroke="#000" stroke-width="1.0"/>
<circle cx="531.90" cy="158.20" r="4.5" fill="#50d786" stroke="#000" stroke-width="1.0"/>
<circle cx="531.00" cy="93.20" r="4.5" fill="#50d786" stroke="#000" stroke-width="1.0"/>
<circle cx="533.00" cy="93.20" r="4.5" fill="#50d786" stroke="#000" stroke-width="1.0"/>
<circle cx="530.80" cy="112.70" r="4.5" fill="#50d786" stroke="#000" stroke-width="1.0"/>
<circle cx="531.00" cy="119.20" r="4.5" fill="#50d786" stroke="#000" stroke-width="1.0"/>
<circle cx="533.50" cy="125.70" r="4.5" fill="#50d786" stroke="#000" stroke-width="1.0"/>
<circle cx="530.00" cy="145.20" r="4.5" fill="#50d786" stroke="#000" stroke-width="1.0"/>
<circle cx="535.50" cy="145.20" r="4.5" fill="#50d786" stroke="#000" stroke-width="1.0"/>
<circle cx="531.50" cy="151.70" r="4.5" fill="#50d786" stroke="#000" stroke-width="1.0"/>
<circle cx="532.50" cy="138.70" r="4.5" fill="#50d786" stroke="#000" stroke-width="1.0"/>
<path d="M475.50,45.00 V40.50 H528.50 V45.00" fill="none" stroke="#444" stroke-width="1.0"/>
<text x="502.60" y="34.70" font-size="9.6" text-anchor="middle" font-weight="normal" fill="#222" >ns</text>
<text x="486.30" y="51.00" font-size="9.6" text-anchor="middle" font-weight="normal" fill="#222" >ns</text>
<path d="M517.50,44.40L517.50,50.60M514.82,45.95L520.18,49.05M514.82,49.05L520.18,45.95" stroke="#f08a90" stroke-width="1.4" fill="none"/>
<path d="M473.50,60.90 V56.50 H499.50 V60.90" fill="none" stroke="#444" stroke-width="1.0"/>
<path d="M504.50,60.90 V56.50 H531.50 V60.90" fill="none" stroke="#444" stroke-width="1.0"/>
<path d="M610.50,48.60 V43.50 H667.50 V48.60" fill="none" stroke="#444" stroke-width="1.0"/>
<text x="638.50" y="38.40" font-size="9.6" text-anchor="middle" font-weight="normal" fill="#222" >ns</text>
<text x="624.40" y="52.70" font-size="9.6" text-anchor="middle" font-weight="normal" fill="#222" >ns</text>
<path d="M653.50,46.40L653.50,52.60M650.82,47.95L656.18,51.05M650.82,51.05L656.18,47.95" stroke="#f08a90" stroke-width="1.4" fill="none"/>
<path d="M610.50,63.40 V58.50 H638.50 V63.40" fill="none" stroke="#444" stroke-width="1.0"/>
<path d="M640.50,63.40 V58.50 H667.50 V63.40" fill="none" stroke="#444" stroke-width="1.0"/>
<line x1="614.20" y1="80.20" x2="614.20" y2="108.15" stroke="#4a4a4a" stroke-width="1.0"/>
<line x1="609.90" y1="80.20" x2="618.50" y2="80.20" stroke="#4a4a4a" stroke-width="1.0"/>
<line x1="614.20" y1="151.05" x2="614.20" y2="158.20" stroke="#4a4a4a" stroke-width="1.0"/>
<line x1="609.90" y1="158.20" x2="618.50" y2="158.20" stroke="#4a4a4a" stroke-width="1.0"/>
<rect x="605.70" y="108.15" width="17" height="42.90" fill="#d6d6d6" stroke="#404040" stroke-width="0.95"/>
<line x1="605.70" y1="125.31" x2="622.70" y2="125.31" stroke="#404040" stroke-width="1.2"/>
<line x1="612.40" y1="125.70" x2="616.00" y2="125.70" stroke="#111" stroke-width="0.85"/>
<line x1="614.20" y1="123.90" x2="614.20" y2="127.50" stroke="#111" stroke-width="0.85"/>
<line x1="640.00" y1="67.20" x2="640.00" y2="93.20" stroke="#4a4a4a" stroke-width="1.0"/>
<line x1="635.70" y1="67.20" x2="644.30" y2="67.20" stroke="#4a4a4a" stroke-width="1.0"/>
<line x1="640.00" y1="131.55" x2="640.00" y2="151.70" stroke="#4a4a4a" stroke-width="1.0"/>
<line x1="635.70" y1="151.70" x2="644.30" y2="151.70" stroke="#4a4a4a" stroke-width="1.0"/>
<rect x="631.50" y="93.20" width="17" height="38.35" fill="#f27b81" stroke="#2a2a2a" stroke-width="0.95"/>
<line x1="631.50" y1="122.13" x2="648.50" y2="122.13" stroke="#2a2a2a" stroke-width="1.2"/>
<line x1="638.20" y1="114.65" x2="641.80" y2="114.65" stroke="#111" stroke-width="0.85"/>
<line x1="640.00" y1="112.85" x2="640.00" y2="116.45" stroke="#111" stroke-width="0.85"/>
<line x1="666.00" y1="67.20" x2="666.00" y2="113.35" stroke="#4a4a4a" stroke-width="1.0"/>
<line x1="661.70" y1="67.20" x2="670.30" y2="67.20" stroke="#4a4a4a" stroke-width="1.0"/>
<line x1="666.00" y1="144.55" x2="666.00" y2="158.20" stroke="#4a4a4a" stroke-width="1.0"/>
<line x1="661.70" y1="158.20" x2="670.30" y2="158.20" stroke="#4a4a4a" stroke-width="1.0"/>
<rect x="657.50" y="113.35" width="17" height="31.20" fill="#50d786" stroke="#1e1e1e" stroke-width="0.95"/>
<line x1="657.50" y1="141.30" x2="674.50" y2="141.30" stroke="#1e1e1e" stroke-width="1.2"/>
<line x1="664.20" y1="127.00" x2="667.80" y2="127.00" stroke="#111" stroke-width="0.85"/>
<line x1="666.00" y1="125.20" x2="666.00" y2="128.80" stroke="#111" stroke-width="0.85"/>
<circle cx="51.90" cy="330.45" r="4.5" fill="#d6d6d6" stroke="#3c3c3c" stroke-width="0.85"/>
<circle cx="51.30" cy="339.15" r="4.5" fill="#d6d6d6" stroke="#3c3c3c" stroke-width="0.85"/>
<circle cx="47.50" cy="347.84" r="4.5" fill="#d6d6d6" stroke="#3c3c3c" stroke-width="0.85"/>
<circle cx="49.20" cy="347.84" r="4.5" fill="#d6d6d6" stroke="#3c3c3c" stroke-width="0.85"/>
<circle cx="50.80" cy="347.84" r="4.5" fill="#d6d6d6" stroke="#3c3c3c" stroke-width="0.85"/>
<circle cx="53.00" cy="347.84" r="4.5" fill="#d6d6d6" stroke="#3c3c3c" stroke-width="0.85"/>
<circle cx="55.00" cy="347.84" r="4.5" fill="#d6d6d6" stroke="#3c3c3c" stroke-width="0.85"/>
<circle cx="56.60" cy="347.84" r="4.5" fill="#d6d6d6" stroke="#3c3c3c" stroke-width="0.85"/>
<circle cx="47.50" cy="356.53" r="4.5" fill="#d6d6d6" stroke="#3c3c3c" stroke-width="0.85"/>
<circle cx="49.20" cy="356.53" r="4.5" fill="#d6d6d6" stroke="#3c3c3c" stroke-width="0.85"/>
<circle cx="50.80" cy="356.53" r="4.5" fill="#d6d6d6" stroke="#3c3c3c" stroke-width="0.85"/>
<circle cx="53.00" cy="356.53" r="4.5" fill="#d6d6d6" stroke="#3c3c3c" stroke-width="0.85"/>
<circle cx="54.80" cy="356.53" r="4.5" fill="#d6d6d6" stroke="#3c3c3c" stroke-width="0.85"/>
<circle cx="56.20" cy="356.53" r="4.5" fill="#d6d6d6" stroke="#3c3c3c" stroke-width="0.85"/>
<circle cx="51.60" cy="373.92" r="4.5" fill="#d6d6d6" stroke="#3c3c3c" stroke-width="0.85"/>
<circle cx="49.60" cy="382.61" r="4.5" fill="#d6d6d6" stroke="#3c3c3c" stroke-width="0.85"/>
<circle cx="48.30" cy="391.31" r="4.5" fill="#d6d6d6" stroke="#3c3c3c" stroke-width="0.85"/>
<circle cx="54.10" cy="391.31" r="4.5" fill="#d6d6d6" stroke="#3c3c3c" stroke-width="0.85"/>
<circle cx="75.30" cy="321.76" r="4.5" fill="#f27b81" stroke="#000" stroke-width="1.15"/>
<circle cx="77.20" cy="321.76" r="4.5" fill="#f27b81" stroke="#000" stroke-width="1.15"/>
<circle cx="79.50" cy="321.76" r="4.5" fill="#f27b81" stroke="#000" stroke-width="1.15"/>
<circle cx="81.90" cy="321.76" r="4.5" fill="#f27b81" stroke="#000" stroke-width="1.15"/>
<circle cx="75.90" cy="330.45" r="4.5" fill="#f27b81" stroke="#000" stroke-width="1.15"/>
<circle cx="79.90" cy="330.45" r="4.5" fill="#f27b81" stroke="#000" stroke-width="1.15"/>
<circle cx="74.90" cy="339.15" r="4.5" fill="#f27b81" stroke="#000" stroke-width="1.15"/>
<circle cx="77.50" cy="339.15" r="4.5" fill="#f27b81" stroke="#000" stroke-width="1.15"/>
<circle cx="81.90" cy="339.15" r="4.5" fill="#f27b81" stroke="#000" stroke-width="1.15"/>
<circle cx="73.90" cy="347.84" r="4.5" fill="#f27b81" stroke="#000" stroke-width="1.15"/>
<circle cx="76.50" cy="347.84" r="4.5" fill="#f27b81" stroke="#000" stroke-width="1.15"/>
<circle cx="80.50" cy="347.84" r="4.5" fill="#f27b81" stroke="#000" stroke-width="1.15"/>
<circle cx="76.90" cy="356.53" r="4.5" fill="#f27b81" stroke="#000" stroke-width="1.15"/>
<circle cx="103.70" cy="295.68" r="4.5" fill="#50d786" stroke="#000" stroke-width="1.0"/>
<circle cx="103.20" cy="295.68" r="4.5" fill="#50d786" stroke="#000" stroke-width="1.0"/>
<circle cx="103.70" cy="304.37" r="4.5" fill="#50d786" stroke="#000" stroke-width="1.0"/>
<circle cx="105.50" cy="313.07" r="4.5" fill="#50d786" stroke="#000" stroke-width="1.0"/>
<circle cx="103.70" cy="313.07" r="4.5" fill="#50d786" stroke="#000" stroke-width="1.0"/>
<circle cx="103.70" cy="321.76" r="4.5" fill="#50d786" stroke="#000" stroke-width="1.0"/>
<circle cx="102.70" cy="330.45" r="4.5" fill="#50d786" stroke="#000" stroke-width="1.0"/>
<circle cx="104.20" cy="330.45" r="4.5" fill="#50d786" stroke="#000" stroke-width="1.0"/>
<circle cx="105.70" cy="330.45" r="4.5" fill="#50d786" stroke="#000" stroke-width="1.0"/>
<circle cx="99.70" cy="339.15" r="4.5" fill="#50d786" stroke="#000" stroke-width="1.0"/>
<circle cx="101.50" cy="339.15" r="4.5" fill="#50d786" stroke="#000" stroke-width="1.0"/>
<circle cx="107.70" cy="339.15" r="4.5" fill="#50d786" stroke="#000" stroke-width="1.0"/>
<circle cx="105.60" cy="339.15" r="4.5" fill="#50d786" stroke="#000" stroke-width="1.0"/>
<circle cx="103.70" cy="339.15" r="4.5" fill="#50d786" stroke="#000" stroke-width="1.0"/>
<circle cx="106.00" cy="347.84" r="4.5" fill="#50d786" stroke="#000" stroke-width="1.0"/>
<circle cx="103.70" cy="347.84" r="4.5" fill="#50d786" stroke="#000" stroke-width="1.0"/>
<circle cx="103.70" cy="356.53" r="4.5" fill="#50d786" stroke="#000" stroke-width="1.0"/>
<circle cx="103.70" cy="365.23" r="4.5" fill="#50d786" stroke="#000" stroke-width="1.0"/>
<path d="M73.50,288.50 V283.50 H105.50 V288.50" fill="none" stroke="#444" stroke-width="1.0"/>
<text x="89.40" y="278.70" font-size="9.6" text-anchor="middle" font-weight="normal" fill="#222" >ns</text>
<path d="M48.50,306.40L48.50,312.60M45.82,307.95L51.18,311.05M45.82,311.05L51.18,307.95" stroke="#4ad67f" stroke-width="1.4" fill="none"/>
<path d="M55.50,306.40L55.50,312.60M52.82,307.95L58.18,311.05M52.82,311.05L58.18,307.95" stroke="#f08a90" stroke-width="1.4" fill="none"/>
<path d="M41.50,323.30 V318.50 H62.50 V323.30" fill="none" stroke="#444" stroke-width="1.0"/>
<circle cx="195.80" cy="291.33" r="4.5" fill="#d6d6d6" stroke="#3c3c3c" stroke-width="0.85"/>
<circle cx="196.80" cy="291.33" r="4.5" fill="#d6d6d6" stroke="#3c3c3c" stroke-width="0.85"/>
<circle cx="198.20" cy="291.33" r="4.5" fill="#d6d6d6" stroke="#3c3c3c" stroke-width="0.85"/>
<circle cx="199.60" cy="291.33" r="4.5" fill="#d6d6d6" stroke="#3c3c3c" stroke-width="0.85"/>
<circle cx="198.10" cy="313.07" r="4.5" fill="#d6d6d6" stroke="#3c3c3c" stroke-width="0.85"/>
<circle cx="197.80" cy="334.80" r="4.5" fill="#d6d6d6" stroke="#3c3c3c" stroke-width="0.85"/>
<circle cx="198.50" cy="334.80" r="4.5" fill="#d6d6d6" stroke="#3c3c3c" stroke-width="0.85"/>
<circle cx="194.50" cy="356.53" r="4.5" fill="#d6d6d6" stroke="#3c3c3c" stroke-width="0.85"/>
<circle cx="195.60" cy="356.53" r="4.5" fill="#d6d6d6" stroke="#3c3c3c" stroke-width="0.85"/>
<circle cx="196.80" cy="356.53" r="4.5" fill="#d6d6d6" stroke="#3c3c3c" stroke-width="0.85"/>
<circle cx="198.60" cy="356.53" r="4.5" fill="#d6d6d6" stroke="#3c3c3c" stroke-width="0.85"/>
<circle cx="200.20" cy="356.53" r="4.5" fill="#d6d6d6" stroke="#3c3c3c" stroke-width="0.85"/>
<circle cx="201.80" cy="356.53" r="4.5" fill="#d6d6d6" stroke="#3c3c3c" stroke-width="0.85"/>
<circle cx="203.20" cy="356.53" r="4.5" fill="#d6d6d6" stroke="#3c3c3c" stroke-width="0.85"/>
<circle cx="197.80" cy="378.27" r="4.5" fill="#d6d6d6" stroke="#3c3c3c" stroke-width="0.85"/>
<circle cx="222.30" cy="313.07" r="4.5" fill="#f27b81" stroke="#000" stroke-width="1.15"/>
<circle cx="224.00" cy="313.07" r="4.5" fill="#f27b81" stroke="#000" stroke-width="1.15"/>
<circle cx="226.50" cy="313.07" r="4.5" fill="#f27b81" stroke="#000" stroke-width="1.15"/>
<circle cx="223.80" cy="334.80" r="4.5" fill="#f27b81" stroke="#000" stroke-width="1.15"/>
<circle cx="220.50" cy="356.53" r="4.5" fill="#f27b81" stroke="#000" stroke-width="1.15"/>
<circle cx="221.80" cy="356.53" r="4.5" fill="#f27b81" stroke="#000" stroke-width="1.15"/>
<circle cx="223.30" cy="356.53" r="4.5" fill="#f27b81" stroke="#000" stroke-width="1.15"/>
<circle cx="225.50" cy="356.53" r="4.5" fill="#f27b81" stroke="#000" stroke-width="1.15"/>
<circle cx="228.70" cy="356.53" r="4.5" fill="#f27b81" stroke="#000" stroke-width="1.15"/>
<circle cx="223.30" cy="378.27" r="4.5" fill="#f27b81" stroke="#000" stroke-width="1.15"/>
<circle cx="224.20" cy="378.27" r="4.5" fill="#f27b81" stroke="#000" stroke-width="1.15"/>
<circle cx="225.10" cy="378.27" r="4.5" fill="#f27b81" stroke="#000" stroke-width="1.15"/>
<circle cx="250.00" cy="291.33" r="4.5" fill="#50d786" stroke="#000" stroke-width="1.0"/>
<circle cx="247.90" cy="313.07" r="4.5" fill="#50d786" stroke="#000" stroke-width="1.0"/>
<circle cx="249.20" cy="313.07" r="4.5" fill="#50d786" stroke="#000" stroke-width="1.0"/>
<circle cx="252.40" cy="313.07" r="4.5" fill="#50d786" stroke="#000" stroke-width="1.0"/>
<circle cx="254.20" cy="313.07" r="4.5" fill="#50d786" stroke="#000" stroke-width="1.0"/>
<circle cx="247.50" cy="334.80" r="4.5" fill="#50d786" stroke="#000" stroke-width="1.0"/>
<circle cx="248.80" cy="334.80" r="4.5" fill="#50d786" stroke="#000" stroke-width="1.0"/>
<circle cx="253.30" cy="334.80" r="4.5" fill="#50d786" stroke="#000" stroke-width="1.0"/>
<circle cx="250.00" cy="345.67" r="4.5" fill="#50d786" stroke="#000" stroke-width="1.0"/>
<circle cx="246.00" cy="356.53" r="4.5" fill="#50d786" stroke="#000" stroke-width="1.0"/>
<circle cx="247.20" cy="356.53" r="4.5" fill="#50d786" stroke="#000" stroke-width="1.0"/>
<circle cx="248.80" cy="356.53" r="4.5" fill="#50d786" stroke="#000" stroke-width="1.0"/>
<circle cx="250.60" cy="356.53" r="4.5" fill="#50d786" stroke="#000" stroke-width="1.0"/>
<circle cx="252.20" cy="356.53" r="4.5" fill="#50d786" stroke="#000" stroke-width="1.0"/>
<circle cx="255.10" cy="356.53" r="4.5" fill="#50d786" stroke="#000" stroke-width="1.0"/>
<circle cx="249.70" cy="378.27" r="4.5" fill="#50d786" stroke="#000" stroke-width="1.0"/>
<circle cx="250.60" cy="378.27" r="4.5" fill="#50d786" stroke="#000" stroke-width="1.0"/>
<circle cx="251.50" cy="378.27" r="4.5" fill="#50d786" stroke="#000" stroke-width="1.0"/>
<path d="M196.50,274.20 V268.50 H248.50 V274.20" fill="none" stroke="#444" stroke-width="1.0"/>
<text x="222.90" y="262.50" font-size="9.6" text-anchor="middle" font-weight="normal" fill="#222" >ns</text>
<text x="204.40" y="277.80" font-size="9.6" text-anchor="middle" font-weight="normal" fill="#222" >ns</text>
<text x="237.30" y="274.80" font-size="9.6" text-anchor="middle" font-weight="normal" fill="#222" >ns</text>
<path d="M191.50,288.90 V283.50 H217.50 V288.90" fill="none" stroke="#444" stroke-width="1.0"/>
<path d="M226.50,285.00 V280.50 H248.50 V285.00" fill="none" stroke="#444" stroke-width="1.0"/>
<circle cx="342.40" cy="285.90" r="4.5" fill="#d6d6d6" stroke="#3c3c3c" stroke-width="0.85"/>
<circle cx="341.60" cy="302.20" r="4.5" fill="#d6d6d6" stroke="#3c3c3c" stroke-width="0.85"/>
<circle cx="342.40" cy="302.20" r="4.5" fill="#d6d6d6" stroke="#3c3c3c" stroke-width="0.85"/>
<circle cx="342.90" cy="302.20" r="4.5" fill="#d6d6d6" stroke="#3c3c3c" stroke-width="0.85"/>
<circle cx="339.10" cy="318.50" r="4.5" fill="#d6d6d6" stroke="#3c3c3c" stroke-width="0.85"/>
<circle cx="340.20" cy="318.50" r="4.5" fill="#d6d6d6" stroke="#3c3c3c" stroke-width="0.85"/>
<circle cx="341.60" cy="318.50" r="4.5" fill="#d6d6d6" stroke="#3c3c3c" stroke-width="0.85"/>
<circle cx="343.50" cy="318.50" r="4.5" fill="#d6d6d6" stroke="#3c3c3c" stroke-width="0.85"/>
<circle cx="346.60" cy="318.50" r="4.5" fill="#d6d6d6" stroke="#3c3c3c" stroke-width="0.85"/>
<circle cx="342.40" cy="326.65" r="4.5" fill="#d6d6d6" stroke="#3c3c3c" stroke-width="0.85"/>
<circle cx="341.30" cy="342.95" r="4.5" fill="#d6d6d6" stroke="#3c3c3c" stroke-width="0.85"/>
<circle cx="342.50" cy="342.95" r="4.5" fill="#d6d6d6" stroke="#3c3c3c" stroke-width="0.85"/>
<circle cx="345.70" cy="342.95" r="4.5" fill="#d6d6d6" stroke="#3c3c3c" stroke-width="0.85"/>
<circle cx="339.90" cy="351.10" r="4.5" fill="#d6d6d6" stroke="#3c3c3c" stroke-width="0.85"/>
<circle cx="341.00" cy="351.10" r="4.5" fill="#d6d6d6" stroke="#3c3c3c" stroke-width="0.85"/>
<circle cx="342.40" cy="351.10" r="4.5" fill="#d6d6d6" stroke="#3c3c3c" stroke-width="0.85"/>
<circle cx="344.50" cy="351.10" r="4.5" fill="#d6d6d6" stroke="#3c3c3c" stroke-width="0.85"/>
<circle cx="346.60" cy="351.10" r="4.5" fill="#d6d6d6" stroke="#3c3c3c" stroke-width="0.85"/>
<circle cx="368.10" cy="334.80" r="4.5" fill="#f27b81" stroke="#000" stroke-width="1.15"/>
<circle cx="369.00" cy="334.80" r="4.5" fill="#f27b81" stroke="#000" stroke-width="1.15"/>
<circle cx="369.70" cy="334.80" r="4.5" fill="#f27b81" stroke="#000" stroke-width="1.15"/>
<circle cx="368.10" cy="342.95" r="4.5" fill="#f27b81" stroke="#000" stroke-width="1.15"/>
<circle cx="364.00" cy="351.10" r="4.5" fill="#f27b81" stroke="#000" stroke-width="1.15"/>
<circle cx="368.20" cy="351.10" r="4.5" fill="#f27b81" stroke="#000" stroke-width="1.15"/>
<circle cx="372.20" cy="351.10" r="4.5" fill="#f27b81" stroke="#000" stroke-width="1.15"/>
<circle cx="368.60" cy="367.40" r="4.5" fill="#f27b81" stroke="#000" stroke-width="1.15"/>
<circle cx="394.10" cy="302.20" r="4.5" fill="#50d786" stroke="#000" stroke-width="1.0"/>
<circle cx="394.10" cy="318.50" r="4.5" fill="#50d786" stroke="#000" stroke-width="1.0"/>
<circle cx="393.40" cy="334.80" r="4.5" fill="#50d786" stroke="#000" stroke-width="1.0"/>
<circle cx="394.00" cy="334.80" r="4.5" fill="#50d786" stroke="#000" stroke-width="1.0"/>
<circle cx="394.50" cy="334.80" r="4.5" fill="#50d786" stroke="#000" stroke-width="1.0"/>
<circle cx="389.60" cy="351.10" r="4.5" fill="#50d786" stroke="#000" stroke-width="1.0"/>
<circle cx="391.20" cy="351.10" r="4.5" fill="#50d786" stroke="#000" stroke-width="1.0"/>
<circle cx="392.90" cy="351.10" r="4.5" fill="#50d786" stroke="#000" stroke-width="1.0"/>
<circle cx="395.20" cy="351.10" r="4.5" fill="#50d786" stroke="#000" stroke-width="1.0"/>
<circle cx="397.50" cy="351.10" r="4.5" fill="#50d786" stroke="#000" stroke-width="1.0"/>
<circle cx="393.80" cy="367.40" r="4.5" fill="#50d786" stroke="#000" stroke-width="1.0"/>
<circle cx="394.20" cy="367.40" r="4.5" fill="#50d786" stroke="#000" stroke-width="1.0"/>
<circle cx="394.50" cy="367.40" r="4.5" fill="#50d786" stroke="#000" stroke-width="1.0"/>
<path d="M338.50,265.40L338.50,271.60M335.82,266.95L341.18,270.05M335.82,270.05L341.18,266.95" stroke="#4ad67f" stroke-width="1.4" fill="none"/>
<path d="M346.50,265.40L346.50,271.60M343.82,266.95L349.18,270.05M343.82,270.05L349.18,266.95" stroke="#f08a90" stroke-width="1.4" fill="none"/>
<path d="M332.50,281.70 V277.50 H353.50 V281.70" fill="none" stroke="#444" stroke-width="1.0"/>
<path d="M367.50,296.60 V291.50 H392.50 V296.60" fill="none" stroke="#444" stroke-width="1.0"/>
<text x="379.90" y="286.40" font-size="9.6" text-anchor="middle" font-weight="normal" fill="#222" >ns</text>
<line x1="470.50" y1="339.30" x2="488.50" y2="339.30" stroke="#8fb0e8" stroke-width="1.0"/>
<line x1="523.00" y1="347.90" x2="540.50" y2="347.90" stroke="#c890f0" stroke-width="1.0"/>
<circle cx="479.90" cy="321.76" r="4.5" fill="#d6d6d6" stroke="#3c3c3c" stroke-width="0.85"/>
<circle cx="480.50" cy="328.71" r="4.5" fill="#d6d6d6" stroke="#3c3c3c" stroke-width="0.85"/>
<circle cx="481.90" cy="334.37" r="4.5" fill="#d6d6d6" stroke="#3c3c3c" stroke-width="0.85"/>
<circle cx="475.20" cy="333.93" r="4.5" fill="#d6d6d6" stroke="#3c3c3c" stroke-width="0.85"/>
<circle cx="483.80" cy="334.37" r="4.5" fill="#d6d6d6" stroke="#3c3c3c" stroke-width="0.85"/>
<circle cx="477.90" cy="334.37" r="4.5" fill="#d6d6d6" stroke="#3c3c3c" stroke-width="0.85"/>
<circle cx="479.90" cy="339.15" r="4.5" fill="#d6d6d6" stroke="#3c3c3c" stroke-width="0.85"/>
<circle cx="475.20" cy="350.01" r="4.5" fill="#d6d6d6" stroke="#3c3c3c" stroke-width="0.85"/>
<circle cx="484.50" cy="350.01" r="4.5" fill="#d6d6d6" stroke="#3c3c3c" stroke-width="0.85"/>
<circle cx="484.50" cy="353.06" r="4.5" fill="#d6d6d6" stroke="#3c3c3c" stroke-width="0.85"/>
<circle cx="481.90" cy="346.97" r="4.5" fill="#d6d6d6" stroke="#3c3c3c" stroke-width="0.85"/>
<circle cx="477.20" cy="346.97" r="4.5" fill="#d6d6d6" stroke="#3c3c3c" stroke-width="0.85"/>
<circle cx="477.90" cy="348.27" r="4.5" fill="#d6d6d6" stroke="#3c3c3c" stroke-width="0.85"/>
<circle cx="479.00" cy="345.23" r="4.5" fill="#d6d6d6" stroke="#3c3c3c" stroke-width="0.85"/>
<circle cx="477.90" cy="356.88" r="4.5" fill="#d6d6d6" stroke="#3c3c3c" stroke-width="0.85"/>
<circle cx="480.50" cy="354.79" r="4.5" fill="#d6d6d6" stroke="#3c3c3c" stroke-width="0.85"/>
<circle cx="505.70" cy="339.15" r="4.5" fill="#f27b81" stroke="#000" stroke-width="1.15"/>
<circle cx="505.70" cy="347.58" r="4.5" fill="#f27b81" stroke="#000" stroke-width="1.15"/>
<circle cx="503.00" cy="352.19" r="4.5" fill="#f27b81" stroke="#000" stroke-width="1.15"/>
<circle cx="509.60" cy="352.19" r="4.5" fill="#f27b81" stroke="#000" stroke-width="1.15"/>
<circle cx="500.40" cy="356.53" r="4.5" fill="#f27b81" stroke="#000" stroke-width="1.15"/>
<circle cx="512.30" cy="356.53" r="4.5" fill="#f27b81" stroke="#000" stroke-width="1.15"/>
<circle cx="505.70" cy="356.53" r="4.5" fill="#f27b81" stroke="#000" stroke-width="1.15"/>
<circle cx="504.40" cy="360.01" r="4.5" fill="#f27b81" stroke="#000" stroke-width="1.15"/>
<circle cx="509.00" cy="360.01" r="4.5" fill="#f27b81" stroke="#000" stroke-width="1.15"/>
<circle cx="507.00" cy="362.62" r="4.5" fill="#f27b81" stroke="#000" stroke-width="1.15"/>
<circle cx="505.70" cy="366.97" r="4.5" fill="#f27b81" stroke="#000" stroke-width="1.15"/>
<circle cx="504.40" cy="373.49" r="4.5" fill="#f27b81" stroke="#000" stroke-width="1.15"/>
<circle cx="506.30" cy="373.49" r="4.5" fill="#f27b81" stroke="#000" stroke-width="1.15"/>
<circle cx="532.10" cy="313.07" r="4.5" fill="#50d786" stroke="#000" stroke-width="1.0"/>
<circle cx="530.80" cy="330.45" r="4.5" fill="#50d786" stroke="#000" stroke-width="1.0"/>
<circle cx="534.10" cy="330.45" r="4.5" fill="#50d786" stroke="#000" stroke-width="1.0"/>
<circle cx="532.10" cy="330.45" r="4.5" fill="#50d786" stroke="#000" stroke-width="1.0"/>
<circle cx="529.50" cy="339.15" r="4.5" fill="#50d786" stroke="#000" stroke-width="1.0"/>
<circle cx="536.10" cy="339.15" r="4.5" fill="#50d786" stroke="#000" stroke-width="1.0"/>
<circle cx="531.50" cy="343.49" r="4.5" fill="#50d786" stroke="#000" stroke-width="1.0"/>
<circle cx="535.50" cy="343.49" r="4.5" fill="#50d786" stroke="#000" stroke-width="1.0"/>
<circle cx="530.50" cy="347.84" r="4.5" fill="#50d786" stroke="#000" stroke-width="1.0"/>
<circle cx="532.10" cy="352.19" r="4.5" fill="#50d786" stroke="#000" stroke-width="1.0"/>
<circle cx="528.80" cy="355.66" r="4.5" fill="#50d786" stroke="#000" stroke-width="1.0"/>
<circle cx="536.80" cy="355.66" r="4.5" fill="#50d786" stroke="#000" stroke-width="1.0"/>
<circle cx="533.50" cy="359.14" r="4.5" fill="#50d786" stroke="#000" stroke-width="1.0"/>
<circle cx="526.20" cy="364.79" r="4.5" fill="#50d786" stroke="#000" stroke-width="1.0"/>
<circle cx="528.20" cy="364.79" r="4.5" fill="#50d786" stroke="#000" stroke-width="1.0"/>
<circle cx="530.80" cy="364.79" r="4.5" fill="#50d786" stroke="#000" stroke-width="1.0"/>
<circle cx="534.80" cy="364.79" r="4.5" fill="#50d786" stroke="#000" stroke-width="1.0"/>
<circle cx="536.50" cy="362.62" r="4.5" fill="#50d786" stroke="#000" stroke-width="1.0"/>
<path d="M478.50,297.30 V292.50 H533.50 V297.30" fill="none" stroke="#444" stroke-width="1.0"/>
<text x="506.60" y="287.00" font-size="9.6" text-anchor="middle" font-weight="normal" fill="#222" >ns</text>
<path d="M490.50,297.40L490.50,303.60M487.82,298.95L493.18,302.05M487.82,302.05L493.18,298.95" stroke="#f08a90" stroke-width="1.4" fill="none"/>
<path d="M523.50,295.40L523.50,301.60M520.82,296.95L526.18,300.05M520.82,300.05L526.18,296.95" stroke="#33cc33" stroke-width="1.4" fill="none"/>
<path d="M477.50,314.00 V309.50 H504.50 V314.00" fill="none" stroke="#444" stroke-width="1.0"/>
<path d="M509.50,312.00 V307.50 H536.50 V312.00" fill="none" stroke="#444" stroke-width="1.0"/>
<line x1="605.00" y1="343.00" x2="623.00" y2="343.00" stroke="#8fb0e8" stroke-width="1.0"/>
<circle cx="614.00" cy="286.99" r="4.5" fill="#d6d6d6" stroke="#3c3c3c" stroke-width="0.85"/>
<circle cx="614.20" cy="313.07" r="4.5" fill="#d6d6d6" stroke="#3c3c3c" stroke-width="0.85"/>
<circle cx="612.20" cy="321.76" r="4.5" fill="#d6d6d6" stroke="#3c3c3c" stroke-width="0.85"/>
<circle cx="616.80" cy="321.76" r="4.5" fill="#d6d6d6" stroke="#3c3c3c" stroke-width="0.85"/>
<circle cx="611.20" cy="325.24" r="4.5" fill="#d6d6d6" stroke="#3c3c3c" stroke-width="0.85"/>
<circle cx="617.20" cy="325.24" r="4.5" fill="#d6d6d6" stroke="#3c3c3c" stroke-width="0.85"/>
<circle cx="612.90" cy="330.45" r="4.5" fill="#d6d6d6" stroke="#3c3c3c" stroke-width="0.85"/>
<circle cx="617.50" cy="330.45" r="4.5" fill="#d6d6d6" stroke="#3c3c3c" stroke-width="0.85"/>
<circle cx="610.00" cy="337.84" r="4.5" fill="#d6d6d6" stroke="#3c3c3c" stroke-width="0.85"/>
<circle cx="612.00" cy="337.84" r="4.5" fill="#d6d6d6" stroke="#3c3c3c" stroke-width="0.85"/>
<circle cx="617.50" cy="337.84" r="4.5" fill="#d6d6d6" stroke="#3c3c3c" stroke-width="0.85"/>
<circle cx="615.00" cy="337.84" r="4.5" fill="#d6d6d6" stroke="#3c3c3c" stroke-width="0.85"/>
<circle cx="610.90" cy="348.27" r="4.5" fill="#d6d6d6" stroke="#3c3c3c" stroke-width="0.85"/>
<circle cx="616.80" cy="348.27" r="4.5" fill="#d6d6d6" stroke="#3c3c3c" stroke-width="0.85"/>
<circle cx="613.50" cy="348.27" r="4.5" fill="#d6d6d6" stroke="#3c3c3c" stroke-width="0.85"/>
<circle cx="613.50" cy="356.88" r="4.5" fill="#d6d6d6" stroke="#3c3c3c" stroke-width="0.85"/>
<circle cx="611.50" cy="365.49" r="4.5" fill="#d6d6d6" stroke="#3c3c3c" stroke-width="0.85"/>
<circle cx="617.80" cy="365.49" r="4.5" fill="#d6d6d6" stroke="#3c3c3c" stroke-width="0.85"/>
<circle cx="616.20" cy="365.49" r="4.5" fill="#d6d6d6" stroke="#3c3c3c" stroke-width="0.85"/>
<circle cx="613.50" cy="365.49" r="4.5" fill="#d6d6d6" stroke="#3c3c3c" stroke-width="0.85"/>
<circle cx="613.60" cy="382.61" r="4.5" fill="#d6d6d6" stroke="#3c3c3c" stroke-width="0.85"/>
<circle cx="640.00" cy="326.98" r="4.5" fill="#f27b81" stroke="#000" stroke-width="1.15"/>
<circle cx="637.40" cy="340.02" r="4.5" fill="#f27b81" stroke="#000" stroke-width="1.15"/>
<circle cx="644.00" cy="340.02" r="4.5" fill="#f27b81" stroke="#000" stroke-width="1.15"/>
<circle cx="642.60" cy="340.02" r="4.5" fill="#f27b81" stroke="#000" stroke-width="1.15"/>
<circle cx="636.00" cy="349.58" r="4.5" fill="#f27b81" stroke="#000" stroke-width="1.15"/>
<circle cx="644.60" cy="350.01" r="4.5" fill="#f27b81" stroke="#000" stroke-width="1.15"/>
<circle cx="640.70" cy="350.01" r="4.5" fill="#f27b81" stroke="#000" stroke-width="1.15"/>
<circle cx="634.70" cy="352.19" r="4.5" fill="#f27b81" stroke="#000" stroke-width="1.15"/>
<circle cx="633.40" cy="359.14" r="4.5" fill="#f27b81" stroke="#000" stroke-width="1.15"/>
<circle cx="646.00" cy="359.14" r="4.5" fill="#f27b81" stroke="#000" stroke-width="1.15"/>
<circle cx="641.30" cy="359.14" r="4.5" fill="#f27b81" stroke="#000" stroke-width="1.15"/>
<circle cx="637.40" cy="359.14" r="4.5" fill="#f27b81" stroke="#000" stroke-width="1.15"/>
<circle cx="638.70" cy="366.97" r="4.5" fill="#f27b81" stroke="#000" stroke-width="1.15"/>
<circle cx="664.50" cy="322.63" r="4.5" fill="#50d786" stroke="#000" stroke-width="1.0"/>
<circle cx="667.80" cy="322.63" r="4.5" fill="#50d786" stroke="#000" stroke-width="1.0"/>
<circle cx="665.10" cy="331.32" r="4.5" fill="#50d786" stroke="#000" stroke-width="1.0"/>
<circle cx="663.80" cy="340.02" r="4.5" fill="#50d786" stroke="#000" stroke-width="1.0"/>
<circle cx="669.80" cy="340.02" r="4.5" fill="#50d786" stroke="#000" stroke-width="1.0"/>
<circle cx="662.50" cy="348.27" r="4.5" fill="#50d786" stroke="#000" stroke-width="1.0"/>
<circle cx="671.80" cy="348.27" r="4.5" fill="#50d786" stroke="#000" stroke-width="1.0"/>
<circle cx="668.50" cy="348.27" r="4.5" fill="#50d786" stroke="#000" stroke-width="1.0"/>
<circle cx="663.20" cy="356.88" r="4.5" fill="#50d786" stroke="#000" stroke-width="1.0"/>
<circle cx="668.50" cy="356.88" r="4.5" fill="#50d786" stroke="#000" stroke-width="1.0"/>
<circle cx="664.50" cy="365.49" r="4.5" fill="#50d786" stroke="#000" stroke-width="1.0"/>
<circle cx="667.10" cy="365.49" r="4.5" fill="#50d786" stroke="#000" stroke-width="1.0"/>
<path d="M613.50,279.70 V274.50 H666.50 V279.70" fill="none" stroke="#444" stroke-width="1.0"/>
<text x="640.00" y="268.30" font-size="9.6" text-anchor="middle" font-weight="normal" fill="#222" >ns</text>
<text x="628.10" y="298.30" font-size="9.6" text-anchor="middle" font-weight="normal" fill="#222" >ns</text>
<text x="661.00" y="298.30" font-size="9.6" text-anchor="middle" font-weight="normal" fill="#222" >ns</text>
<path d="M617.50,308.90 V304.50 H638.50 V308.90" fill="none" stroke="#444" stroke-width="1.0"/>
<path d="M649.50,309.60 V304.50 H671.50 V309.60" fill="none" stroke="#444" stroke-width="1.0"/>
<path d="M76.50,474.10 V469.50 H103.50 V474.10" fill="none" stroke="#444" stroke-width="1.0"/>
<text x="90.20" y="463.90" font-size="9.6" text-anchor="middle" font-weight="normal" fill="#222" >ns</text>
<path d="M48.50,493.40L48.50,499.60M45.82,494.95L51.18,498.05M45.82,498.05L51.18,494.95" stroke="#4ad67f" stroke-width="1.4" fill="none"/>
<path d="M55.50,493.40L55.50,499.60M52.82,494.95L58.18,498.05M52.82,498.05L58.18,494.95" stroke="#f08a90" stroke-width="1.4" fill="none"/>
<path d="M41.50,510.50 V505.50 H62.50 V510.50" fill="none" stroke="#444" stroke-width="1.0"/>
<line x1="51.70" y1="512.02" x2="51.70" y2="529.34" stroke="#4a4a4a" stroke-width="1.0"/>
<line x1="47.40" y1="512.02" x2="56.00" y2="512.02" stroke="#4a4a4a" stroke-width="1.0"/>
<line x1="51.70" y1="550.99" x2="51.70" y2="572.64" stroke="#4a4a4a" stroke-width="1.0"/>
<line x1="47.40" y1="572.64" x2="56.00" y2="572.64" stroke="#4a4a4a" stroke-width="1.0"/>
<rect x="43.20" y="529.34" width="17" height="21.65" fill="#d6d6d6" stroke="#404040" stroke-width="0.95"/>
<line x1="43.20" y1="538.00" x2="60.20" y2="538.00" stroke="#404040" stroke-width="1.2"/>
<line x1="49.90" y1="541.46" x2="53.50" y2="541.46" stroke="#111" stroke-width="0.85"/>
<line x1="51.70" y1="539.66" x2="51.70" y2="543.26" stroke="#111" stroke-width="0.85"/>
<line x1="77.70" y1="529.34" x2="77.70" y2="538.00" stroke="#4a4a4a" stroke-width="1.0"/>
<line x1="73.40" y1="538.00" x2="82.00" y2="538.00" stroke="#4a4a4a" stroke-width="1.0"/>
<rect x="69.20" y="503.36" width="17" height="25.98" fill="#f27b81" stroke="#2a2a2a" stroke-width="0.95"/>
<line x1="69.20" y1="520.68" x2="86.20" y2="520.68" stroke="#2a2a2a" stroke-width="1.2"/>
<line x1="75.90" y1="516.35" x2="79.50" y2="516.35" stroke="#111" stroke-width="0.85"/>
<line x1="77.70" y1="514.55" x2="77.70" y2="518.15" stroke="#111" stroke-width="0.85"/>
<line x1="103.80" y1="477.38" x2="103.80" y2="512.02" stroke="#4a4a4a" stroke-width="1.0"/>
<line x1="99.50" y1="477.38" x2="108.10" y2="477.38" stroke="#4a4a4a" stroke-width="1.0"/>
<line x1="103.80" y1="526.74" x2="103.80" y2="546.66" stroke="#4a4a4a" stroke-width="1.0"/>
<line x1="99.50" y1="546.66" x2="108.10" y2="546.66" stroke="#4a4a4a" stroke-width="1.0"/>
<rect x="95.30" y="512.02" width="17" height="14.72" fill="#50d786" stroke="#1e1e1e" stroke-width="0.95"/>
<line x1="95.30" y1="520.68" x2="112.30" y2="520.68" stroke="#1e1e1e" stroke-width="1.2"/>
<line x1="102.00" y1="516.35" x2="105.60" y2="516.35" stroke="#111" stroke-width="0.85"/>
<line x1="103.80" y1="514.55" x2="103.80" y2="518.15" stroke="#111" stroke-width="0.85"/>
<path d="M196.50,460.00 V453.50 H248.50 V460.00" fill="none" stroke="#444" stroke-width="1.0"/>
<text x="222.50" y="448.20" font-size="9.6" text-anchor="middle" font-weight="normal" fill="#222" >ns</text>
<text x="207.60" y="460.80" font-size="9.6" text-anchor="middle" font-weight="normal" fill="#222" >ns</text>
<text x="237.30" y="460.80" font-size="9.6" text-anchor="middle" font-weight="normal" fill="#222" >ns</text>
<path d="M194.50,470.70 V466.50 H219.50 V470.70" fill="none" stroke="#444" stroke-width="1.0"/>
<path d="M224.50,470.70 V466.50 H249.50 V470.70" fill="none" stroke="#444" stroke-width="1.0"/>
<line x1="196.00" y1="473.05" x2="196.00" y2="500.11" stroke="#4a4a4a" stroke-width="1.0"/>
<line x1="191.70" y1="473.05" x2="200.30" y2="473.05" stroke="#4a4a4a" stroke-width="1.0"/>
<line x1="196.00" y1="538.00" x2="196.00" y2="559.65" stroke="#4a4a4a" stroke-width="1.0"/>
<line x1="191.70" y1="559.65" x2="200.30" y2="559.65" stroke="#4a4a4a" stroke-width="1.0"/>
<rect x="187.50" y="500.11" width="17" height="37.89" fill="#d6d6d6" stroke="#404040" stroke-width="0.95"/>
<line x1="194.20" y1="521.76" x2="197.80" y2="521.76" stroke="#111" stroke-width="0.85"/>
<line x1="196.00" y1="519.96" x2="196.00" y2="523.56" stroke="#111" stroke-width="0.85"/>
<line x1="222.20" y1="538.00" x2="222.20" y2="559.65" stroke="#4a4a4a" stroke-width="1.0"/>
<line x1="217.90" y1="559.65" x2="226.50" y2="559.65" stroke="#4a4a4a" stroke-width="1.0"/>
<rect x="213.70" y="494.70" width="17" height="43.30" fill="#f27b81" stroke="#2a2a2a" stroke-width="0.95"/>
<line x1="220.40" y1="528.26" x2="224.00" y2="528.26" stroke="#111" stroke-width="0.85"/>
<line x1="222.20" y1="526.46" x2="222.20" y2="530.06" stroke="#111" stroke-width="0.85"/>
<line x1="248.20" y1="473.05" x2="248.20" y2="494.70" stroke="#4a4a4a" stroke-width="1.0"/>
<line x1="243.90" y1="473.05" x2="252.50" y2="473.05" stroke="#4a4a4a" stroke-width="1.0"/>
<line x1="248.20" y1="538.00" x2="248.20" y2="559.65" stroke="#4a4a4a" stroke-width="1.0"/>
<line x1="243.90" y1="559.65" x2="252.50" y2="559.65" stroke="#4a4a4a" stroke-width="1.0"/>
<rect x="239.70" y="494.70" width="17" height="43.30" fill="#50d786" stroke="#1e1e1e" stroke-width="0.95"/>
<line x1="239.70" y1="516.35" x2="256.70" y2="516.35" stroke="#1e1e1e" stroke-width="1.2"/>
<line x1="246.40" y1="521.76" x2="250.00" y2="521.76" stroke="#111" stroke-width="0.85"/>
<line x1="248.20" y1="519.96" x2="248.20" y2="523.56" stroke="#111" stroke-width="0.85"/>
<path d="M336.50,449.40L336.50,455.60M333.82,450.95L339.18,454.05M333.82,454.05L339.18,450.95" stroke="#4ad67f" stroke-width="1.4" fill="none"/>
<path d="M345.50,449.40L345.50,455.60M342.82,450.95L348.18,454.05M342.82,454.05L348.18,450.95" stroke="#f08a90" stroke-width="1.4" fill="none"/>
<path d="M330.50,465.50 V460.50 H351.50 V465.50" fill="none" stroke="#444" stroke-width="1.0"/>
<path d="M366.50,481.90 V477.50 H393.50 V481.90" fill="none" stroke="#444" stroke-width="1.0"/>
<text x="380.30" y="471.70" font-size="9.6" text-anchor="middle" font-weight="normal" fill="#222" >ns</text>
<line x1="340.90" y1="467.64" x2="340.90" y2="500.11" stroke="#4a4a4a" stroke-width="1.0"/>
<line x1="336.60" y1="467.64" x2="345.20" y2="467.64" stroke="#4a4a4a" stroke-width="1.0"/>
<line x1="340.90" y1="524.47" x2="340.90" y2="532.59" stroke="#4a4a4a" stroke-width="1.0"/>
<line x1="336.60" y1="532.59" x2="345.20" y2="532.59" stroke="#4a4a4a" stroke-width="1.0"/>
<rect x="332.40" y="500.11" width="17" height="24.36" fill="#d6d6d6" stroke="#404040" stroke-width="0.95"/>
<line x1="339.10" y1="506.61" x2="342.70" y2="506.61" stroke="#111" stroke-width="0.85"/>
<line x1="340.90" y1="504.81" x2="340.90" y2="508.41" stroke="#111" stroke-width="0.85"/>
<line x1="367.10" y1="516.35" x2="367.10" y2="524.47" stroke="#4a4a4a" stroke-width="1.0"/>
<line x1="362.80" y1="516.35" x2="371.40" y2="516.35" stroke="#4a4a4a" stroke-width="1.0"/>
<line x1="367.10" y1="532.59" x2="367.10" y2="548.82" stroke="#4a4a4a" stroke-width="1.0"/>
<line x1="362.80" y1="548.82" x2="371.40" y2="548.82" stroke="#4a4a4a" stroke-width="1.0"/>
<rect x="358.60" y="524.47" width="17" height="8.12" fill="#f27b81" stroke="#2a2a2a" stroke-width="0.95"/>
<line x1="365.30" y1="529.34" x2="368.90" y2="529.34" stroke="#111" stroke-width="0.85"/>
<line x1="367.10" y1="527.54" x2="367.10" y2="531.14" stroke="#111" stroke-width="0.85"/>
<line x1="393.00" y1="483.88" x2="393.00" y2="516.35" stroke="#4a4a4a" stroke-width="1.0"/>
<line x1="388.70" y1="483.88" x2="397.30" y2="483.88" stroke="#4a4a4a" stroke-width="1.0"/>
<line x1="393.00" y1="532.59" x2="393.00" y2="548.82" stroke="#4a4a4a" stroke-width="1.0"/>
<line x1="388.70" y1="548.82" x2="397.30" y2="548.82" stroke="#4a4a4a" stroke-width="1.0"/>
<rect x="384.50" y="516.35" width="17" height="16.24" fill="#50d786" stroke="#1e1e1e" stroke-width="0.95"/>
<line x1="391.20" y1="528.53" x2="394.80" y2="528.53" stroke="#111" stroke-width="0.85"/>
<line x1="393.00" y1="526.73" x2="393.00" y2="530.33" stroke="#111" stroke-width="0.85"/>
<path d="M476.50,480.50 V475.50 H530.50 V480.50" fill="none" stroke="#444" stroke-width="1.0"/>
<text x="503.70" y="470.00" font-size="9.6" text-anchor="middle" font-weight="normal" fill="#222" >ns</text>
<path d="M487.50,483.40L487.50,489.60M484.82,484.95L490.18,488.05M484.82,488.05L490.18,484.95" stroke="#f08a90" stroke-width="1.4" fill="none"/>
<path d="M521.50,475.40L521.50,481.60M518.82,476.95L524.18,480.05M518.82,480.05L524.18,476.95" stroke="#33cc33" stroke-width="1.4" fill="none"/>
<path d="M474.50,500.30 V495.50 H501.50 V500.30" fill="none" stroke="#444" stroke-width="1.0"/>
<path d="M507.50,492.70 V488.50 H534.50 V492.70" fill="none" stroke="#444" stroke-width="1.0"/>
<line x1="478.10" y1="503.36" x2="478.10" y2="516.35" stroke="#4a4a4a" stroke-width="1.0"/>
<line x1="473.80" y1="503.36" x2="482.40" y2="503.36" stroke="#4a4a4a" stroke-width="1.0"/>
<line x1="478.10" y1="531.50" x2="478.10" y2="538.00" stroke="#4a4a4a" stroke-width="1.0"/>
<line x1="473.80" y1="538.00" x2="482.40" y2="538.00" stroke="#4a4a4a" stroke-width="1.0"/>
<rect x="469.60" y="516.35" width="17" height="15.16" fill="#d6d6d6" stroke="#404040" stroke-width="0.95"/>
<line x1="469.60" y1="520.68" x2="486.60" y2="520.68" stroke="#404040" stroke-width="1.2"/>
<line x1="476.30" y1="523.28" x2="479.90" y2="523.28" stroke="#111" stroke-width="0.85"/>
<line x1="478.10" y1="521.48" x2="478.10" y2="525.08" stroke="#111" stroke-width="0.85"/>
<line x1="504.00" y1="520.68" x2="504.00" y2="536.96" stroke="#4a4a4a" stroke-width="1.0"/>
<line x1="499.70" y1="520.68" x2="508.30" y2="520.68" stroke="#4a4a4a" stroke-width="1.0"/>
<line x1="504.00" y1="538.00" x2="504.00" y2="555.32" stroke="#4a4a4a" stroke-width="1.0"/>
<line x1="499.70" y1="555.32" x2="508.30" y2="555.32" stroke="#4a4a4a" stroke-width="1.0"/>
<rect x="495.50" y="536.96" width="17" height="1.04" fill="#f27b81" stroke="#6a1a20" stroke-width="0.95"/>
<line x1="530.80" y1="494.70" x2="530.80" y2="522.41" stroke="#4a4a4a" stroke-width="1.0"/>
<line x1="526.50" y1="494.70" x2="535.10" y2="494.70" stroke="#4a4a4a" stroke-width="1.0"/>
<line x1="530.80" y1="538.00" x2="530.80" y2="546.66" stroke="#4a4a4a" stroke-width="1.0"/>
<line x1="526.50" y1="546.66" x2="535.10" y2="546.66" stroke="#4a4a4a" stroke-width="1.0"/>
<rect x="522.30" y="522.41" width="17" height="15.59" fill="#50d786" stroke="#1e1e1e" stroke-width="0.95"/>
<line x1="522.30" y1="529.34" x2="539.30" y2="529.34" stroke="#1e1e1e" stroke-width="1.2"/>
<line x1="529.00" y1="529.34" x2="532.60" y2="529.34" stroke="#111" stroke-width="0.85"/>
<line x1="530.80" y1="527.54" x2="530.80" y2="531.14" stroke="#111" stroke-width="0.85"/>
<path d="M613.50,466.20 V460.50 H665.50 V466.20" fill="none" stroke="#444" stroke-width="1.0"/>
<text x="639.50" y="454.70" font-size="9.6" text-anchor="middle" font-weight="normal" fill="#222" >ns</text>
<text x="619.70" y="488.60" font-size="9.6" text-anchor="middle" font-weight="normal" fill="#222" >ns</text>
<text x="652.30" y="488.60" font-size="9.6" text-anchor="middle" font-weight="normal" fill="#222" >ns</text>
<path d="M609.50,499.30 V494.50 H630.50 V499.30" fill="none" stroke="#444" stroke-width="1.0"/>
<path d="M641.50,499.30 V494.50 H663.50 V499.30" fill="none" stroke="#444" stroke-width="1.0"/>
<line x1="611.40" y1="468.72" x2="611.40" y2="512.02" stroke="#4a4a4a" stroke-width="1.0"/>
<line x1="607.10" y1="468.72" x2="615.70" y2="468.72" stroke="#4a4a4a" stroke-width="1.0"/>
<line x1="611.40" y1="538.00" x2="611.40" y2="563.98" stroke="#4a4a4a" stroke-width="1.0"/>
<line x1="607.10" y1="563.98" x2="615.70" y2="563.98" stroke="#4a4a4a" stroke-width="1.0"/>
<rect x="602.90" y="512.02" width="17" height="25.98" fill="#d6d6d6" stroke="#404040" stroke-width="0.95"/>
<line x1="602.90" y1="524.14" x2="619.90" y2="524.14" stroke="#404040" stroke-width="1.2"/>
<line x1="609.60" y1="524.14" x2="613.20" y2="524.14" stroke="#111" stroke-width="0.85"/>
<line x1="611.40" y1="522.34" x2="611.40" y2="525.94" stroke="#111" stroke-width="0.85"/>
<line x1="638.00" y1="507.69" x2="638.00" y2="520.68" stroke="#4a4a4a" stroke-width="1.0"/>
<line x1="633.70" y1="507.69" x2="642.30" y2="507.69" stroke="#4a4a4a" stroke-width="1.0"/>
<line x1="638.00" y1="539.73" x2="638.00" y2="546.66" stroke="#4a4a4a" stroke-width="1.0"/>
<line x1="633.70" y1="546.66" x2="642.30" y2="546.66" stroke="#4a4a4a" stroke-width="1.0"/>
<rect x="629.50" y="520.68" width="17" height="19.05" fill="#f27b81" stroke="#2a2a2a" stroke-width="0.95"/>
<line x1="629.50" y1="531.50" x2="646.50" y2="531.50" stroke="#2a2a2a" stroke-width="1.2"/>
<line x1="636.20" y1="530.64" x2="639.80" y2="530.64" stroke="#111" stroke-width="0.85"/>
<line x1="638.00" y1="528.84" x2="638.00" y2="532.44" stroke="#111" stroke-width="0.85"/>
<line x1="663.80" y1="503.36" x2="663.80" y2="514.62" stroke="#4a4a4a" stroke-width="1.0"/>
<line x1="659.50" y1="503.36" x2="668.10" y2="503.36" stroke="#4a4a4a" stroke-width="1.0"/>
<line x1="663.80" y1="535.83" x2="663.80" y2="546.66" stroke="#4a4a4a" stroke-width="1.0"/>
<line x1="659.50" y1="546.66" x2="668.10" y2="546.66" stroke="#4a4a4a" stroke-width="1.0"/>
<rect x="655.30" y="514.62" width="17" height="21.22" fill="#50d786" stroke="#1e1e1e" stroke-width="0.95"/>
<line x1="655.30" y1="529.34" x2="672.30" y2="529.34" stroke="#1e1e1e" stroke-width="1.2"/>
<line x1="662.00" y1="524.14" x2="665.60" y2="524.14" stroke="#111" stroke-width="0.85"/>
<line x1="663.80" y1="522.34" x2="663.80" y2="525.94" stroke="#111" stroke-width="0.85"/>
</svg></body></html>
